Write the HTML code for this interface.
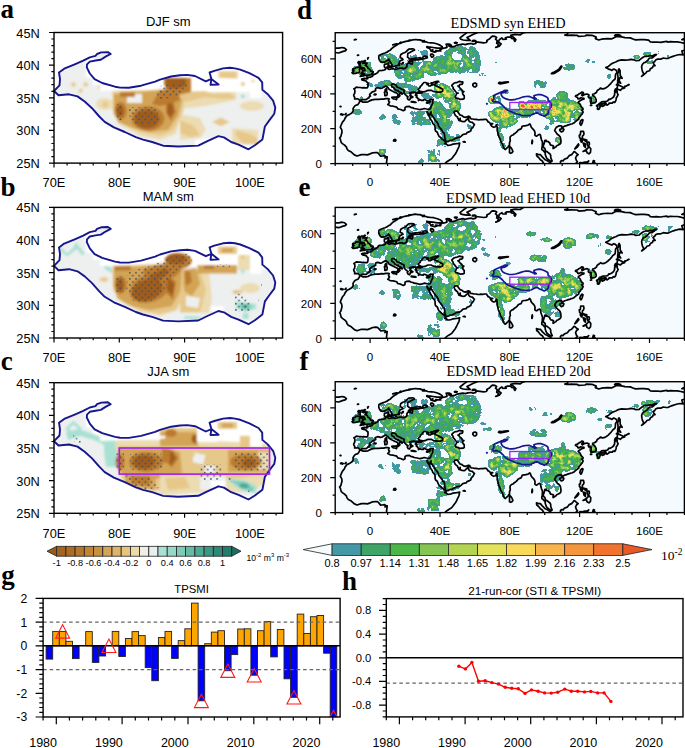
<!DOCTYPE html><html><head><meta charset="utf-8"><style>html,body{margin:0;padding:0;background:#fff}svg{display:block}</style></head><body><svg width="685" height="748" viewBox="0 0 685 748" font-family="Liberation Sans, sans-serif"><rect width="685" height="748" fill="#fff"/><defs><clipPath id="eclip"><rect x="0" y="0" width="349.2" height="130.9"/></clipPath><g id="coast" fill="none" stroke="#000" stroke-width="1.7" stroke-linejoin="round"><path d="M51.2 132.7L51.3 130.1L51.7 126.6L52 124.1L50.6 124L49.4 122.9L47.1 123.3L45.4 123.4L43.6 121.2L42.3 120L40.2 119.8L37.5 120.1L34.9 121.2L32.3 122.2L29.7 122L26.2 121.9L21.8 123.3L19.2 122.2L16.1 119.4L13.1 117.9L11.7 116.1L11.3 114.4L9.6 112.6L8.2 111.7L6.1 110L5.6 108.3L5.2 106.5L4.4 105.3L5.6 103.9L6.1 102.1L6.8 99.5L6.5 96.9L5.1 94.6L6.1 92L7.3 89.4L9.1 87.3L10 85.2L11.9 82.8L14 81.9L16.6 80.3L18 78.2L17.8 76L18.9 74.2L20.1 72.8L22.7 71.9L24.1 69.8L24.6 68.4L25.7 68.3L27.9 69.5L30.6 69.5L32.8 69.1L33.9 68.4L36.7 67.2L40.2 66.7L43.6 66.7L46.3 66.3L48.4 66.5L50.6 66L52.7 66L54.1 66.3L53.3 67.4L53.6 68.8L54.3 69.5L53.6 70.7L52.6 71.9L54.1 72.6L55 73.2L58 73.5L61.5 74.4L62.5 76.1L65.5 76.8L68.1 78L69.8 77L69.8 74.9L71.6 73.9L74.2 73.7L75.4 74.6L77.7 75.1L78.9 75.8L82.1 76.3L84.7 77L87.1 76.5L89 75.8L91.3 76.3L93.4 76.6L94.8 76.3L95.5 75.1L96 73.7L96.9 71.8L97.6 70.4L97.4 68.8L97.8 67.6L98 66.7L97.1 67L95.3 66.7L94.3 67.6L92.2 68.1L89.9 67L88.3 66.9L88 67.7L86.1 67.6L84.3 66.7L82.9 66.3L82.4 65.3L81 64.3L81.7 63.6L81.5 62.3L80.5 61.8L80.8 60.9L82.6 60.4L85.4 60.4L87.1 59.9L85.7 59L83.8 59L81.4 59.9L80.3 59.7L78.6 59.5L76.8 59.7L75.1 60.1L74.4 60.4L75.8 61.3L74.9 62.3L75.1 63.2L76.8 64.3L76.6 65.1L75.3 64.8L74.9 66.3L74.2 67.4L72.8 66.7L72.1 65.3L72.8 64.1L71.2 63L70.2 62L68.8 60.2L68.8 58.8L69 57.8L67.9 57.1L66.5 56.6L65 55.5L63.6 55L61.5 54L60.8 52.4L59.7 51.9L58.8 51.3L57.6 51.2L56.4 51.7L56.4 53.3L56.9 54L58.5 54.8L59.7 56.7L61.5 57.8L63.2 57.8L62.9 58.7L64.4 59.2L66.3 60.1L67.2 60.9L66.9 61.5L65 60.4L63.7 61.8L64.8 63L63.9 63.9L63 64.8L62.2 64.4L62.5 63.2L62.9 62L62.2 60.9L60.8 60.1L59.7 59.7L58.5 59L56.4 58.1L54.3 56.9L53.3 56L52.9 55L51.5 54L50.5 53.4L49.6 53.8L48 54.5L46.6 55.5L45.2 55.7L43.6 55.2L42.3 55L40.7 55.5L40.2 56.7L40.5 57.8L38.8 58.7L36.7 59.4L36.5 59.9L34.9 61.1L34.4 62L35.3 63.4L34 64.1L33.7 65.3L32.7 65.5L31.1 66.9L28.8 66.9L27.2 66.9L25.8 67.4L25.1 68.1L23.9 67.2L23.6 66.5L22 66L21 66.3L19.4 66.3L19.6 64.8L18.7 63.4L18.5 62.2L19.4 60.8L19.7 59.2L19.6 57.3L18.7 56L20.3 55.2L21.1 54.5L23.6 54.8L25 54.8L27.1 55.2L28.3 55L29.9 55.2L31.8 55.2L32.3 54.8L32.8 53.1L32.8 51.3L32.8 50.3L31.4 49.2L31.1 48.4L29.7 48L27.4 47.5L26.7 47L26.5 46.3L27.9 45.9L29.7 45.7L31.4 46.1L32.5 45.9L32.1 45L31.6 44.2L32.8 44.7L35.1 44.5L36.8 43.8L37.7 43L38.2 41.9L39.1 41.7L40.5 41.2L41.9 40.3L42.8 39.5L43.1 38.6L44.3 37.9L47 37.7L48.9 37.4L50.1 36.8L50.5 36.1L49.9 34.9L49.1 34L49.2 31.8L51.3 31.3L53.4 30.2L53.3 31.3L52.9 32.5L54 32.7L52.7 33.7L51.7 34.9L52.7 36L54 36.8L56 36.3L58.3 36L59.9 36.8L62 36.3L64.6 35.4L67.2 35.3L67.6 36L69.1 36L70.7 35.1L71.8 33.7L71.6 32.3L72.5 30.7L74.2 30.2L76 31.3L77 31.4L77.5 29.2L76 28.1L78 27.2L80.3 26.9L83.8 27.1L86.4 26.4L87.6 26.4L86.1 25.8L85 25L82.9 25.3L80.3 25.5L78.6 25.8L75.1 26.4L73.7 25.5L72.3 24.3L72.5 22.7L72.6 20.8L75.1 19.6L77.7 18L79.3 17.5L78.9 16.6L77.2 16.1L73.5 16.4L72.1 17.6L70.4 19.6L67.7 20.6L65.6 21.8L65.1 23.6L65 25L67.2 25.8L67.7 26.9L66.5 27.4L64.6 28.5L63.9 30.4L63.6 32L62.2 32.8L60.2 33.2L57.6 34L57.3 32.8L56.7 32.1L55.7 30.2L54.8 28.6L53.8 27.4L53.4 26.4L52.7 27.8L51.5 28.1L48.9 29.5L47.1 29.7L45.4 29.2L44.7 28.1L44 26.9L43.6 25.5L43.6 24.3L43.8 22.9L45.7 21.8L47.5 21.1L49.8 20.3L52 19.4L53.3 18.3L55 17.5L56.7 15.7L58.5 14.3L60.1 13.4L62 12.2L62.9 11.3L65.5 10.5L67.9 9.4L70.7 8.7L73.3 8.2L76.3 7.5L80 6.8L82.9 7.2L84.7 7.2L87.3 8.2L89.2 8L87.3 9.1L90.8 9.1L92.5 9.8L96 10.1L98.6 10.3L102.1 11.3L104.8 12.4L107 14L106.7 15.2L104.8 15.4L102.1 15.5L97.8 14.8L95.2 14.5L93.4 14.3L91.7 13.8L91.7 14.8L94.3 15.7L95.7 17.5L95.7 18.3L97.8 18.9L99.5 19.4L101.3 18.7L100.4 17.8L103.9 18.2L105.6 18.2L104.8 17.1L107.4 15.7L110 15.2L111.7 14.7L111.7 13.1L110.9 11.5L111.7 11.3L114.4 11.5L116.1 12.6L113.5 13.1L115.2 14.1L118.7 14L122.2 12.4L127.5 11.3L130.1 11.9L132.7 11.2L136.2 10.8L137.9 11.5L140.6 10.7L140.6 9.1L144.9 9.6L148.4 10.1L151 9.8L151.9 8.7L151.6 7.7L154.5 6.1L155.9 4.4L157.1 3.5L159.8 3.7L161.5 4.7L160.3 6.5L162 7.9L161.5 10.5L163.3 11.7L162.4 14L160.6 14.7L164.1 13.4L165.9 11.3L165 10.5L163.3 9.6L164.1 7L166.7 5.2L167.6 6.6L171.1 6.5L170.2 5.2L172 4.5L175.5 4.4L176.3 5.6L179 6.1L179 7.9L179.8 8.7L180.7 7L178.1 4.4L175.5 2.6L179.8 1.7L185.1 2.1L186.8 0.9L189.4 -0.3L195.6 -1.4L202.5 -2.1L209.5 -4.4L216.5 -4.5L220.9 -3.1L222.6 -1.7L228.7 -3L233.1 -1.4L232.2 1.7L229.6 2.3L231.3 2.8L235.7 2.4L241.8 2.6L243.6 3.7L249.7 3.3L251.4 2.4L256.7 2.6L261 4.4L260.2 5.9L263.6 7.3L266.3 6.5L268.9 6.1L272.4 5.9L276.7 6.1L279.4 4.7L281.1 3.8L286.3 4.2L289.8 4.9L295.1 5.2L297.7 6.3L300.3 7.2L305.6 7L309 7L313.4 7.5L315.2 9.3L317.8 9.4L321.3 9.3L325.6 9.6L328.2 9.1L331.7 8.7L332.6 9.4L335.2 8.9L338.7 9.1L342.2 9.1L345.7 9.8L349.2 10.7L352.7 11.5L357.9 14L357.9 22.7L349.2 17.5L346.6 18.3L347.5 21L348 22.2L344.8 21.8L342.2 22.3L339.6 23L337 23.9L335.2 24.6L332.6 25.8L330.9 25.8L328.2 25.3L325.6 26.4L323.9 26.5L322.1 26.5L320.4 27.4L319.5 28.8L317.8 30L318.6 31.4L319.9 33L317.8 33.3L317.4 34.9L315.2 36.1L314.3 38.1L311.7 38.8L310.8 40.2L308.7 41.9L308.2 40.5L307.3 38.8L306.8 36.7L306.4 34L307.1 31.8L308.7 30L310.1 29.7L312.5 27.6L314.3 25.3L316.9 25.3L319.5 23.2L321.3 21.8L319.5 22L316.9 23.4L314.8 23L313.4 23.4L310.4 23.6L308.2 24.3L304.7 26.9L304.2 27.6L300.3 27.9L298.6 27.1L295.9 26.7L293.3 27.2L289.8 27.4L286.3 27.2L283.2 27.9L280.6 29.3L278.5 30L275.9 31.4L273.2 33.7L270.6 34.9L271.9 35.6L274.1 36.7L275.5 37L276.7 37.7L278.5 36.3L280.2 37L281.6 38.4L281.8 39.8L280.4 41.6L280.2 43.1L280.1 45.4L279.7 46.6L277.6 48.2L276.6 49.6L275 51.5L272.7 53.6L271.2 54.8L268.9 56L267.1 56.2L265.4 55.3L264.2 56.4L263.1 57.1L261.9 58L261.4 59.4L260.7 60.1L259.3 61.1L257.5 61.6L257.4 62.5L258.9 63.6L259.8 64.6L260.9 66.7L261 68.6L260.2 69.7L259.1 70.2L257.5 70.5L255.8 70.9L255.4 69.8L256 68.4L255.8 67L256.1 65.6L255.3 65.1L253.9 65.1L253.2 64.4L253 63.7L253.7 62.9L253.7 62L252.6 61.6L251.9 61.3L250 61.6L248.5 62.3L247.1 63.2L246.5 62.3L247.2 61.3L248.3 60.4L247.9 59.7L246.5 59.5L245.1 60.6L243.7 61.3L242.3 62.5L240.6 62.9L240.2 63.7L241.3 64.4L242.3 64.6L242.7 66L243.7 66.2L245.7 65L247.2 65.5L248.8 65.6L248.6 66.5L246.5 67L245.7 67.6L245 68.1L243.6 68.8L243 69.8L244.1 70.7L245 71.6L245.8 73.7L246.7 74.7L247.8 75.8L247.8 76.8L246.2 77.5L247.6 78.6L247.9 79.3L247.2 80.7L246.7 81.7L245.7 82.4L245 83.8L243.7 85L243.6 86.4L242.3 87.3L241.1 88.2L239.7 89.4L238.7 90.3L237.1 91.1L235.7 91.3L234.3 92L233.1 92.2L231.3 92.9L229.6 93.4L227.9 94.3L227.3 95.5L226.5 95.2L226.5 93.4L225.4 93.2L223.5 93.2L221.2 94.6L220.5 95.7L219.8 96.9L219.5 98.1L220.5 99.2L221.4 100.6L222.8 102.1L223.8 102.8L224.9 104.2L225.4 105.6L225.6 106.9L225.8 108.6L225.6 110.2L224.9 111.2L223.1 112.3L221.9 112.8L221.2 113.5L220.7 114.2L219.1 115.2L217.9 115.9L217.9 114.4L218.4 113.5L217.4 112.8L215.6 112.4L214.8 111.4L214.6 110.3L213.4 109.3L212.7 108.8L211.1 108.8L211.1 107.6L210.4 107.6L209.5 107.9L209.3 109.6L208.6 111.7L208.1 113.1L208.3 114.9L209.5 115.6L210 116.6L210.2 118.4L211.8 118.9L213.5 120.3L214.8 121.3L215.5 122.7L215.5 124.3L215.8 125.7L216.3 126.8L217 128.3L215.6 128.7L214.4 127.8L213.4 127.1L211.8 125.9L210.9 124.3L210.6 123.4L210 121.5L210 120.1L209.7 119.6L208.8 118.9L207.8 117.5L206.6 116.8L206.6 115.2L207.1 113.5L207.1 112.1L207.3 110L206.9 108.3L206.4 107.4L205.7 105.1L205.3 102.5L204.6 101.6L203.6 102L203.1 102.1L201.5 103.4L200.1 103L199.6 102.1L199.9 100.4L199.4 98.5L198.5 97.1L197.3 96L196.4 94.8L195.9 94.3L195.6 93.1L195.2 92L194.5 91.1L192.9 92.4L191.7 92.7L190.3 93.1L188.9 93.1L187.7 93.4L186.8 93.8L186.5 95L185.8 96.2L183.9 96.9L182.8 97.6L181.8 99L180.4 100.2L178.6 101.3L178.4 102L176.9 102.5L176 103.2L175.1 103.9L174.8 105.6L175.1 108.1L174.4 109.6L174.3 111.2L174.3 113L173.4 113.1L172.7 114.7L171.5 115.4L170.2 116.8L169.4 116.3L168.5 115.2L168.1 114L167.3 111.4L166.4 110L165.5 108.4L164.8 106.2L163.8 104.1L163.1 102.1L162.6 99.7L162 97.8L162 95.5L161.9 94.1L161.5 93.1L161.7 92L161 92.2L160.8 93.4L159.6 94.3L158.5 94.6L157.1 93.8L156.3 93.1L155.4 92L156.3 91.5L157.5 91L156.3 91L155 90.8L154.7 90.3L154 89.6L152.8 89.2L152.4 88.2L151.7 87.5L151.2 86.6L149.3 86.6L147.5 87L145.8 86.8L143.7 87.1L142.5 87L140.6 86.6L138.8 86.6L137.6 86.3L135.8 86.1L135 85L134.4 83.8L133.2 83.5L132 84L130.4 84.7L128.3 84.2L126.6 82.8L124.8 82.2L123.6 80.5L122.7 79.3L122.2 78.4L121 78.4L119.6 78.7L118.7 79.6L119.4 81.2L120.1 82.6L121.3 83.6L122.4 84.5L122.6 85.6L123.3 86.4L123.6 87.6L124.1 88L124.5 87L125 85.7L125 87L125 88L126.8 88.7L128.9 88.9L129.9 88.5L130.9 87.5L131.8 86.6L132.7 85.6L133.2 85L133.4 86.1L133.4 87.5L134.4 89L135.8 89.4L137.2 89.7L138.3 91L139.3 91.7L138.5 93.2L137.6 94.8L136.9 95.3L135.8 96.9L135.7 98L133.7 99.2L131.8 99.9L130.9 101.3L129.2 101.4L127.5 102L126.1 103.4L124.8 104.4L122.2 104.9L120.5 105.6L118.7 106.5L117 107.4L115.2 107.6L113.5 108.6L111.7 109L110.7 108.8L110.3 107.7L109.6 105.1L109.5 103.5L109.3 102.1L109.1 100.6L107.7 99.7L106.9 97.8L105.8 96.4L104.2 94.6L103.4 93.4L103 91.7L102.1 89.9L101.3 88.9L100.2 87.8L99.3 86.3L98.6 85.2L97.3 83.3L96.2 81.9L95.5 80.3L96 79.4L95.3 79.8L94.8 81.7L94.6 82.4L93.6 81.5L92.5 80L91.8 78.7L91.8 79.4L92.4 81L93.4 82.2L94.1 83.8L94.8 85.4L95.9 87.3L97.1 89L97.6 90.8L99.3 92.5L99.9 94.3L99.9 96.7L100.4 98.3L102.1 99.5L103 102L103.9 103.7L104.8 104.2L106.5 106L107.7 106.9L109.5 108.3L110.5 109.5L110.5 110.3L109.5 110.9L110.9 111.2L112.6 112.6L114.4 112.4L116.1 112.1L117.9 111.4L119.6 111.2L121.3 111L123.1 110.7L124.5 110.3L124.1 111.7L124.1 112.8L123.6 114.4L122.7 116.1L121.3 119.1L120.1 121.3L118.7 123.1L117 125.4L115.2 126.9L114 127.5L111.7 129L110 130.6L108.3 132.7L106.5 134.4L104.8 137.9L69.8 144.9L50.6 136.2Z"/><path d="M25 43.6L27.1 43.1L28.8 43.1L30.6 42.6L33.2 42.4L35.8 42.3L37.4 41.6L36.5 41L37.9 40.2L37.9 38.9L35.4 38.4L35.1 37.4L34.2 36.3L32.8 35.6L32.1 33.9L31.3 33.3L30 33L30.4 32.3L31.4 31.4L31.8 30.4L30 30.2L28.3 30.4L27.6 30.6L28.6 29.5L29.5 28.6L27.9 28.6L26.2 28.6L25.7 29.3L25.1 30.6L24.8 31.6L25.1 32.7L25.1 34.2L26.5 34.9L26.4 35.4L28.8 35.1L29.3 36.3L29.9 37.4L29.5 37.9L27.6 37.9L27.1 38.6L27.8 39.5L26.7 40L25.8 40.5L27.4 40.9L29.3 41.2L27.6 41.6L26.2 42.3L25 43.6ZM24.1 36.8L25.1 36.1L24.8 35.1L23.9 34.6L22.2 34.4L20.4 34.7L19.9 35.8L17.5 36.3L18.2 37L17.3 37.7L18.7 38.2L18.2 39.1L16.8 40L17.8 40.9L20.3 40.7L22.7 40L23.9 39.8L24.4 38.4L24.1 36.8ZM-7 16.6L-3.8 15L0 15.5L3.5 15.4L7 14.8L9.4 15.4L11.2 16.9L10 18.2L7.9 18.7L3.5 20.3L-0.9 19.7L-4.7 19.4L-3.5 18.5L-6.1 17.6L-4.4 17.1L-7 16.6ZM125.7 6.5L128 7.3L131.8 7.7L135 7.7L133.6 6.5L131.8 4.9L134.4 3.5L136.2 2.6L139.7 0.9L144 -0.9L150.2 -2.3L155.4 -3.5L151.9 -3.8L143.2 -3L136.2 -1.4L131.8 -0.3L130.1 1.2L128.3 2.4L126.6 3.8L124.8 5.2L125.7 6.5ZM137.1 8.6L138.8 8.4L140.6 8.2L139.3 7.7L137.2 7.9L137.1 8.6ZM119.6 10.5L121.3 10.7L122 10L120.5 9.6L119.3 10L119.6 10.5ZM49.9 58.7L51.2 58.7L51.5 57.4L51.3 55.9L50.6 56.4L49.9 57.1L49.9 58.7ZM49.6 62.9L50.6 62.9L51.7 62.5L52 60.9L51.9 59.5L51 59L49.2 59.5L49.6 61.1L49.6 62.9ZM56.6 65L58.1 66.2L59.9 66.3L61.3 66.9L61.6 65.8L62.2 64.1L60.2 64.4L58.1 64.3L56.6 64.6L56.6 65ZM76 69.3L77.3 69.5L79.4 69.8L80.8 69.7L80 69.3L77.7 69L76.1 68.8L76 69.3ZM91.3 70.2L92.5 70.5L94.3 69.8L95.3 68.6L93.4 69.3L91.7 69.5L91.3 70.2ZM54.3 34.6L56 34.9L56.9 33.9L56.4 33L54.6 33.5L54.3 34.6ZM52 34.7L53.6 34.7L53.4 33.9L52.2 34L52 34.7ZM66.5 31.4L67.7 31.1L68.1 29.9L67.4 30L66.5 31.4ZM73.2 29.2L74.9 29.5L75.6 28.8L74.2 28.6L73.2 29.2ZM38.9 62L40.2 62.3L40.9 61.6L39.8 61.3L38.9 62ZM261.4 73L262.4 74.4L262.2 76.3L263.1 76.8L264.2 76.1L264.7 74.4L265.2 73.3L264.5 72.3L263.5 71.8L262.4 72.3L261.4 73ZM266.3 73L267.1 73.7L269.2 72.8L270.1 71.8L269.2 71.1L267.5 71.2L266.4 71.9L266.3 73ZM263.5 71.6L265.2 70.4L266.4 69.1L268 68.8L270.6 68.6L272.4 68.3L273.6 66.5L274.6 66.7L276.7 65.6L278.3 64.3L279.4 62.3L279.4 60.4L280.2 59.4L280.8 58.8L282 58.7L282 60.4L282.9 62L282 63.9L281.1 65L280.9 66.7L280.4 68.4L279.5 69.7L278.8 69.3L277.8 69.5L277.3 70.4L275.2 70.5L273.9 70.4L273.8 71.1L272 72.5L271 71.9L270.8 70.5L269.2 70.4L267.3 70.9L265.9 71.1L264.5 71.6L263.5 71.6ZM279.4 58.5L280.1 56.6L281.8 55.5L282.3 53.6L282.7 51.7L284.4 52.9L286.9 54.1L288.6 55L289.5 55.2L286.9 56L285.1 57.6L282.7 56.6L281.1 58L279.4 58.5ZM282.5 50.5L283.2 49.6L285.5 50.5L283.9 48L284.6 45L287 45.6L285.1 42.8L284.9 40.2L284.9 37.9L283.9 36.1L283.2 37L283.4 39.1L282.3 41L282.7 43.3L282.9 45.7L282.5 47.8L282.5 50.5ZM244.6 90.8L245.7 92.5L246.2 92L247.1 89.9L247.8 87.3L246.9 86.8L245.3 88.5L244.6 90.8ZM224.5 97.6L226.1 99.2L227.9 98.5L228.7 96.6L227.9 95.9L226.6 96L224.7 96.7L224.5 97.6ZM174.3 120.1L174.3 116.6L174.6 113.8L176 115.2L177 117L177.7 118.7L176.7 120.1L175.5 120.6L174.3 120.1ZM245.5 98.6L248.3 98.6L248.8 101.1L248.1 102.7L247.2 103.4L247.2 106.2L251.6 107.4L251.4 109L250.2 108.3L247.9 106.9L246.2 107L245.5 105.8L244.4 105.1L244.1 102.5L245.1 102.1L245.5 98.6ZM247.9 118.7L249.3 117.9L250.7 117L251.9 116.1L253.9 114L255.6 116.1L255.3 119.6L253.7 121.2L251.8 120L251.1 117.7L247.9 118.7ZM251.9 109.1L254 109.6L254.2 111.7L252.8 113.5L251.9 111.7L251.9 109.1ZM247.9 110.3L249.9 110.9L249.7 112.6L248.8 112.4L247.9 110.3ZM248.6 112.4L250 111.9L250.2 114.7L249 113.7L248.6 112.4ZM239.6 116.3L241.8 114.7L243.6 112.4L243.2 111.2L240.9 114.2L239.6 116.3ZM245.1 107.4L246.5 107.2L247.1 108.6L246.2 109.5L245.1 107.4ZM226.3 127.8L227.9 128.2L229.1 126.6L231.3 125.7L232.2 125.4L234.1 122.9L236.4 121.9L237.6 120.5L238.9 118.9L240.2 119.6L241.3 120.8L243 121.9L241.3 123.3L240.4 125.2L241.1 127.5L242.3 129.2L240.6 130.6L239.7 132.7L237.5 137.1L227.9 135.3L225.6 131.8L225.2 129.2L226.3 127.8ZM201.3 121.2L203.4 121.9L205.2 121.9L207.3 124.5L210 127.1L211.8 127.8L213.9 129.2L215.5 130.1L217.2 133L217.4 136.2L211.3 135.3L208.6 130.9L207.1 128.3L205.2 127.1L203.4 124.8L201.5 123.1L201.3 121.2ZM244.1 130.9L244.8 129.9L247.1 130.1L249.7 129.4L252.3 129.2L253.5 128.2L251.9 130.3L249.7 130.4L247.1 130.8L245.5 132.7L246.2 136.2L242.7 136.2L243.6 132.7L244.1 130.9ZM257.5 130.1L258.2 127.8L259.3 128.3L258.4 129.6L259.8 130.4L258.8 131.8L257.7 131.5L257.5 130.1ZM346.6 7L350.1 7L350.9 5.9L348.3 6.1L346.6 7ZM279.4 3L282.9 3.1L285.5 2.8L282.9 1.9L280.2 2.1L279.4 3ZM209.5 -1.7L218.2 -1.7L218.2 -8.7L209.5 -8.7ZM5.8 82.1L6.8 81.4L5.9 81.2L5.4 81.5L5.8 82.1ZM7.3 82.4L8 81.9L7.5 81.7L7.3 82.4ZM9.8 81.9L10.8 80.8L10.7 81.7L9.8 81.9ZM4.9 73.9L5.8 73.9L5.4 73.6L4.9 73.9ZM196.6 110.9L196.9 110.9L197.3 109.1L197.1 107.4L196.8 108.3L196.6 110.9ZM289 54.6L290.2 53.8L289.8 53.4L289 54.6ZM291.2 53.3L293.2 52L293.9 51.9L292.1 52.7L291.2 53.3ZM306.4 43.6L308 42.6L307.6 42.3L306.4 43.6ZM255.3 72.8L256.5 72.6L255.8 72.4L255.3 72.8ZM281.3 52.2L281.6 51.9L281.3 51.7ZM19.2 7.2L21.1 6.8L20.4 6.7L19.2 7.2ZM128 109.1L130.1 109.5L129.2 108.8L128 109.1ZM49.8 125.2L50.5 124.8L50.1 124.3L49.8 125.2ZM80.1 62.5L81.4 62.9L81 62.2L80.1 62.5ZM83.3 67.9L84.2 67.4L83.8 67.2L83.3 67.9ZM74.9 63L76.8 64.3L77.7 64.4L76 63.4L74.9 63ZM60.6 34.9L61.5 34.7L60.9 34.4L60.6 34.9ZM63.6 32.8L64.4 32.1L64.8 30.9L63.6 32.8ZM74 28.3L75.1 28.3L74.4 27.8L74 28.3ZM22.7 30L24.1 28.8L23.2 29.2L22.7 30ZM23.4 31.1L24.6 30.9L24.1 30.2L23.4 31.1ZM23.9 32.7L25 32.5L24.3 32.1L23.9 32.7ZM26.5 36.5L27.4 36.1L27.1 36L26.5 36.5ZM32.5 26.4L32.8 25.5L33.2 25L32.5 25.3L32.5 26.4ZM29 28.3L30.2 28.1L29.7 27.8L29 28.3ZM22.3 22.7L23.4 22.5L22.9 22.2L22.3 22.7ZM57.6 12.2L60.2 11.9L62.5 11.3L61.1 11.2L57.6 12.2ZM64.6 10.1L66 9.8L65.5 9.4L64.6 10.1ZM73.3 7.9L74.7 7.7L74.2 7.5L73.3 7.9ZM96.9 17.5L97.8 17.3L97.3 17.1L96.9 17.5Z"/><path d="M58.3 108.3L60.1 108.4L60.8 107.6L59.9 106.7L58.7 107L58.3 108.3ZM117.9 51.3L118.7 50.6L120 50.1L120.8 49.9L122.2 49.6L124.3 48.7L126.1 49.2L127.5 49.1L127.6 50.3L126.9 51.5L124.5 52L124 53.1L122.7 53.4L123.8 54L124.5 55.2L125.7 56.2L126.8 57.3L127.1 58.3L128.7 58.8L127.3 59.9L127.5 61.1L128.2 62.3L129 63L129 64.6L129 65.8L127.8 66.5L124.8 66.7L122.6 65.6L120.6 65.3L120.1 63.9L120.5 63L121 61.8L121.3 60.8L122.9 60.4L121.5 60.1L120.5 59L119.8 58L118.7 56.7L117.9 55.9L117.9 54.6L117 53.6L116.6 52.7L117.9 51.3ZM137.6 52.7L138.8 54.1L140.2 54.3L141.4 53.1L141.4 51.3L140 50.3L138.5 50.6L137.6 51.7L137.6 52.7ZM163.3 50.6L165 51.2L167.6 50.6L170.2 50.1L173.2 49.4L172.9 49.1L169.4 49.4L166.7 49.8L164.1 49.6L163.3 50.6ZM216.2 40.9L217.9 41L220 40.2L222.6 38.6L224.4 37.4L226.3 34.6L226.6 33.5L225.8 33.5L224 36.1L221.7 37.9L219.1 39.3L217 40.2L216.2 40.9ZM88.2 26.2L89.9 25.8L92.2 25.1L91.8 23.9L89.9 23.4L88.2 23.9L87.3 25.1L88.2 26.2ZM96.4 24.4L97.8 24.1L98.5 22.7L97.4 21.5L95.7 21.3L95.3 22.7L96.4 24.4ZM85.7 59L88.2 59.2L89.9 59L91.7 58L93.4 57.6L96 57.6L96.9 58.1L98.3 58.8L100.4 59.2L102.1 59.5L104.2 59.4L105.6 59.4L107.4 58.5L107.6 56.6L106.5 55.9L104.8 55.2L103 54L101.3 53.3L100 52.6L99 52L100.4 50.8L101.8 50.1L103.4 48.7L101.8 48.7L100 49.1L97.8 49.8L96.4 50.1L95.7 50.6L96.6 51.7L98.6 51.7L96.7 52.4L95 53.3L93.6 53.3L93.2 52.4L91.8 51.7L93.6 50.8L91.7 50.5L90.3 49.8L88.7 49.8L87.6 51L86.8 51.9L86.6 52.7L85 53.8L84.9 55L83.8 55.5L83.5 56.4L82.9 56.9L83.8 57.8L84.5 58.5L85.7 59Z"/></g></defs><text x="0.5" y="18.3" font-size="27" font-family="Liberation Serif, serif" font-weight="bold">a</text><text x="0.5" y="195.8" font-size="27" font-family="Liberation Serif, serif" font-weight="bold">b</text><text x="0.8" y="369.5" font-size="27" font-family="Liberation Serif, serif" font-weight="bold">c</text><text x="297" y="18.5" font-size="27" font-family="Liberation Serif, serif" font-weight="bold">d</text><text x="298.5" y="195.6" font-size="27" font-family="Liberation Serif, serif" font-weight="bold">e</text><text x="299.5" y="369.6" font-size="27" font-family="Liberation Serif, serif" font-weight="bold">f</text><text x="1.2" y="583.5" font-size="27" font-family="Liberation Serif, serif" font-weight="bold">g</text><text x="342" y="589.7" font-size="27" font-family="Liberation Serif, serif" font-weight="bold">h</text><text x="168.3" y="25.9" font-size="13" text-anchor="middle">DJF sm</text><path d="M54 163.1H49M54 156.6H51.4M54 150H51.4M54 143.5H51.4M54 137H51.4M54 130.4H49M54 123.9H51.4M54 117.4H51.4M54 110.9H51.4M54 104.3H51.4M54 97.8H49M54 91.3H51.4M54 84.7H51.4M54 78.2H51.4M54 71.7H51.4M54 65.2H49M54 58.6H51.4M54 52.1H51.4M54 45.6H51.4M54 39H51.4M54 32.5H49M54 163.1V167.6M67.1 163.1V165.4M80.1 163.1V165.4M93.2 163.1V165.4M106.3 163.1V165.4M119.3 163.1V167.6M132.4 163.1V165.4M145.4 163.1V165.4M158.5 163.1V165.4M171.6 163.1V165.4M184.6 163.1V167.6M197.7 163.1V165.4M210.8 163.1V165.4M223.8 163.1V165.4M236.9 163.1V165.4M249.9 163.1V167.6M263 163.1V165.4M276.1 163.1V165.4" stroke="#000" stroke-width="1.2" fill="none"/><text x="39.8" y="37.5" font-size="12.8" text-anchor="end">45N</text><text x="39.8" y="70.2" font-size="12.8" text-anchor="end">40N</text><text x="39.8" y="102.8" font-size="12.8" text-anchor="end">35N</text><text x="39.8" y="135.4" font-size="12.8" text-anchor="end">30N</text><text x="39.8" y="168.1" font-size="12.8" text-anchor="end">25N</text><text x="54" y="187.4" font-size="12.8" text-anchor="middle">70E</text><text x="119.3" y="187.4" font-size="12.8" text-anchor="middle">80E</text><text x="184.6" y="187.4" font-size="12.8" text-anchor="middle">90E</text><text x="249.9" y="187.4" font-size="12.8" text-anchor="middle">100E</text><text x="168.3" y="200.8" font-size="13" text-anchor="middle">MAM sm</text><path d="M54 338H49M54 331.5H51.4M54 324.9H51.4M54 318.4H51.4M54 311.9H51.4M54 305.4H49M54 298.8H51.4M54 292.3H51.4M54 285.8H51.4M54 279.2H51.4M54 272.7H49M54 266.2H51.4M54 259.6H51.4M54 253.1H51.4M54 246.6H51.4M54 240.1H49M54 233.5H51.4M54 227H51.4M54 220.5H51.4M54 213.9H51.4M54 207.4H49M54 338V342.5M67.1 338V340.3M80.1 338V340.3M93.2 338V340.3M106.3 338V340.3M119.3 338V342.5M132.4 338V340.3M145.4 338V340.3M158.5 338V340.3M171.6 338V340.3M184.6 338V342.5M197.7 338V340.3M210.8 338V340.3M223.8 338V340.3M236.9 338V340.3M249.9 338V342.5M263 338V340.3M276.1 338V340.3" stroke="#000" stroke-width="1.2" fill="none"/><text x="39.8" y="212.4" font-size="12.8" text-anchor="end">45N</text><text x="39.8" y="245.1" font-size="12.8" text-anchor="end">40N</text><text x="39.8" y="277.7" font-size="12.8" text-anchor="end">35N</text><text x="39.8" y="310.4" font-size="12.8" text-anchor="end">30N</text><text x="39.8" y="343" font-size="12.8" text-anchor="end">25N</text><text x="54" y="362.3" font-size="12.8" text-anchor="middle">70E</text><text x="119.3" y="362.3" font-size="12.8" text-anchor="middle">80E</text><text x="184.6" y="362.3" font-size="12.8" text-anchor="middle">90E</text><text x="249.9" y="362.3" font-size="12.8" text-anchor="middle">100E</text><text x="168.3" y="376.1" font-size="13" text-anchor="middle">JJA sm</text><path d="M54 513.3H49M54 506.8H51.4M54 500.2H51.4M54 493.7H51.4M54 487.2H51.4M54 480.6H49M54 474.1H51.4M54 467.6H51.4M54 461.1H51.4M54 454.5H51.4M54 448H49M54 441.5H51.4M54 434.9H51.4M54 428.4H51.4M54 421.9H51.4M54 415.3H49M54 408.8H51.4M54 402.3H51.4M54 395.8H51.4M54 389.2H51.4M54 382.7H49M54 513.3V517.8M67.1 513.3V515.6M80.1 513.3V515.6M93.2 513.3V515.6M106.3 513.3V515.6M119.3 513.3V517.8M132.4 513.3V515.6M145.4 513.3V515.6M158.5 513.3V515.6M171.6 513.3V515.6M184.6 513.3V517.8M197.7 513.3V515.6M210.8 513.3V515.6M223.8 513.3V515.6M236.9 513.3V515.6M249.9 513.3V517.8M263 513.3V515.6M276.1 513.3V515.6" stroke="#000" stroke-width="1.2" fill="none"/><text x="39.8" y="387.7" font-size="12.8" text-anchor="end">45N</text><text x="39.8" y="420.3" font-size="12.8" text-anchor="end">40N</text><text x="39.8" y="453" font-size="12.8" text-anchor="end">35N</text><text x="39.8" y="485.6" font-size="12.8" text-anchor="end">30N</text><text x="39.8" y="518.3" font-size="12.8" text-anchor="end">25N</text><text x="54" y="537.6" font-size="12.8" text-anchor="middle">70E</text><text x="119.3" y="537.6" font-size="12.8" text-anchor="middle">80E</text><text x="184.6" y="537.6" font-size="12.8" text-anchor="middle">90E</text><text x="249.9" y="537.6" font-size="12.8" text-anchor="middle">100E</text><text x="508" y="28.4" font-size="14.3" font-family="Liberation Serif, serif" text-anchor="middle">EDSMD syn EHED</text><path d="M335.2 163.6H330.2M335.2 146.2H332.6M335.2 128.7H330.2M335.2 111.3H332.6M335.2 93.8H330.2M335.2 76.3H332.6M335.2 58.9H330.2M335.2 41.4H332.6M335.2 163.6V165.9M352.7 163.6V165.9M370.1 163.6V168.1M387.6 163.6V165.9M405 163.6V165.9M422.5 163.6V165.9M440 163.6V168.1M457.4 163.6V165.9M474.9 163.6V165.9M492.3 163.6V165.9M509.8 163.6V168.1M527.3 163.6V165.9M544.7 163.6V165.9M562.2 163.6V165.9M579.6 163.6V168.1M597.1 163.6V165.9M614.6 163.6V165.9M632 163.6V165.9M649.5 163.6V168.1M666.9 163.6V165.9M684.4 163.6V165.9" stroke="#000" stroke-width="1.2" fill="none"/><text x="322" y="167.8" font-size="11.6" text-anchor="end">0</text><text x="322" y="132.9" font-size="11.6" text-anchor="end">20N</text><text x="322" y="98" font-size="11.6" text-anchor="end">40N</text><text x="322" y="63.1" font-size="11.6" text-anchor="end">60N</text><text x="370.1" y="185.7" font-size="11.6" text-anchor="middle">0</text><text x="440" y="185.7" font-size="11.6" text-anchor="middle">40E</text><text x="509.8" y="185.7" font-size="11.6" text-anchor="middle">80E</text><text x="579.6" y="185.7" font-size="11.6" text-anchor="middle">120E</text><text x="649.5" y="185.7" font-size="11.6" text-anchor="middle">160E</text><text x="518" y="202.5" font-size="14.3" font-family="Liberation Serif, serif" text-anchor="middle">EDSMD lead EHED 10d</text><path d="M335.2 338.4H330.2M335.2 320.9H332.6M335.2 303.4H330.2M335.2 286H332.6M335.2 268.5H330.2M335.2 251.1H332.6M335.2 233.6H330.2M335.2 216.1H332.6M335.2 338.4V340.7M352.7 338.4V340.7M370.1 338.4V342.9M387.6 338.4V340.7M405 338.4V340.7M422.5 338.4V340.7M440 338.4V342.9M457.4 338.4V340.7M474.9 338.4V340.7M492.3 338.4V340.7M509.8 338.4V342.9M527.3 338.4V340.7M544.7 338.4V340.7M562.2 338.4V340.7M579.6 338.4V342.9M597.1 338.4V340.7M614.6 338.4V340.7M632 338.4V340.7M649.5 338.4V342.9M666.9 338.4V340.7M684.4 338.4V340.7" stroke="#000" stroke-width="1.2" fill="none"/><text x="322" y="342.6" font-size="11.6" text-anchor="end">0</text><text x="322" y="307.6" font-size="11.6" text-anchor="end">20N</text><text x="322" y="272.7" font-size="11.6" text-anchor="end">40N</text><text x="322" y="237.8" font-size="11.6" text-anchor="end">60N</text><text x="370.1" y="360.5" font-size="11.6" text-anchor="middle">0</text><text x="440" y="360.5" font-size="11.6" text-anchor="middle">40E</text><text x="509.8" y="360.5" font-size="11.6" text-anchor="middle">80E</text><text x="579.6" y="360.5" font-size="11.6" text-anchor="middle">120E</text><text x="649.5" y="360.5" font-size="11.6" text-anchor="middle">160E</text><text x="518.7" y="376.1" font-size="14.3" font-family="Liberation Serif, serif" text-anchor="middle">EDSMD lead EHED 20d</text><path d="M335.2 512.6H330.2M335.2 495.2H332.6M335.2 477.7H330.2M335.2 460.3H332.6M335.2 442.8H330.2M335.2 425.3H332.6M335.2 407.9H330.2M335.2 390.4H332.6M335.2 512.6V514.9M352.7 512.6V514.9M370.1 512.6V517.1M387.6 512.6V514.9M405 512.6V514.9M422.5 512.6V514.9M440 512.6V517.1M457.4 512.6V514.9M474.9 512.6V514.9M492.3 512.6V514.9M509.8 512.6V517.1M527.3 512.6V514.9M544.7 512.6V514.9M562.2 512.6V514.9M579.6 512.6V517.1M597.1 512.6V514.9M614.6 512.6V514.9M632 512.6V514.9M649.5 512.6V517.1M666.9 512.6V514.9M684.4 512.6V514.9" stroke="#000" stroke-width="1.2" fill="none"/><text x="322" y="516.9" font-size="11.6" text-anchor="end">0</text><text x="322" y="481.9" font-size="11.6" text-anchor="end">20N</text><text x="322" y="447" font-size="11.6" text-anchor="end">40N</text><text x="322" y="412.1" font-size="11.6" text-anchor="end">60N</text><text x="370.1" y="534.8" font-size="11.6" text-anchor="middle">0</text><text x="440" y="534.8" font-size="11.6" text-anchor="middle">40E</text><text x="509.8" y="534.8" font-size="11.6" text-anchor="middle">80E</text><text x="579.6" y="534.8" font-size="11.6" text-anchor="middle">120E</text><text x="649.5" y="534.8" font-size="11.6" text-anchor="middle">160E</text><defs><clipPath id="tpclip"><path d="M54 91L59.5 85.3L60 79.2L59 72.5L64.2 68.7L74.7 64.4L83.2 60.7L89.8 57.3L95.5 55.9L97 54L101.2 52.4L107.9 52.1L110.7 54L106 56.4L100.8 59.7L95.5 60.5L89.8 61.6L87 64.4L86.8 67.3L89.8 73.5L94.6 79.2L102.2 83L115 86.7L120 87.6L128.8 87.7L141.1 85.7L155.1 81.7L160 79.6L171 76.5L180 75.3L187.4 74.9L195 76L205.8 81.3L211.4 78.9L210.5 84.8L218.6 84.5L211.4 78.9L209.6 72.5L214.3 70.8L223 68.4L230 67.8L235 68.4L240.3 69.6L249.4 73.2L258.5 77.8L262.2 82.4L262.4 89.7L267.7 94.2L273.1 100.6L275.3 107.6L274.3 113.7L269.5 120.1L264.9 126.5L262.4 139.5L254.9 145.3L248.5 149.3L238.5 144.7L231.2 142L223.9 137.4L218.4 136.1L207.4 141.1L198.3 145.6L178.2 146.5L163.1 145.7L152.2 142L143 139.6L135.8 137.1L124.8 132L113.9 127.4L104.7 121.9L99.3 116.5L92 108.2L84.7 101.5L77.5 96.4L69 94.3L58.5 95.3L54 91Z"/></clipPath><filter id="sblur" x="-5%" y="-5%" width="110%" height="110%"><feGaussianBlur stdDeviation="0.9"/></filter><pattern id="dots" x="0.6" y="0.4" width="6.24" height="6.2" patternUnits="userSpaceOnUse"><rect x="0.5" y="0.5" width="1.5" height="1.5" fill="#3f4f62"/><rect x="3.62" y="3.6" width="1.5" height="1.5" fill="#3f4f62"/></pattern></defs><g transform="translate(0,0)"><g clip-path="url(#tpclip)"><g filter="url(#sblur)"><path d="M55 95L55 68L73 64L73 62L85 58L86 77L93 78L93 85L105 85L105 90L160 90L200 92L262 92L276 100L276 146L56 146Z" fill="#edf0ef"/><path d="M95 52L112 52L112 58L95 60Z" fill="#edf0ef"/><path d="M114 104L113.3 106.3L111.4 108.2L108.4 109.5L105 110L101.6 109.5L98.6 108.2L96.7 106.3L96 104L96.7 101.7L98.6 99.8L101.6 98.5L105 98L108.4 98.5L111.4 99.8L113.3 101.7Z" fill="#ecdcb2"/><path d="M105.1 101L108.6 104.5L105.1 108L101.6 104.5Z" fill="#e6c88a"/><path d="M73.4 81L76.9 84.5L73.4 88L69.9 84.5Z" fill="#ecdcb2"/><path d="M85.7 81L89.2 84.5L85.7 88L82.2 84.5Z" fill="#ecdcb2"/><path d="M80.6 87.7L83.6 90.7L80.6 93.7L77.6 90.7Z" fill="#ecdcb2"/><path d="M99 84.6L101.5 87.1L99 89.6L96.5 87.1Z" fill="#ecdcb2"/><path d="M73.4 82.3L75.6 84.5L73.4 86.7L71.2 84.5Z" fill="#e6c88a"/><path d="M85.7 82.3L87.9 84.5L85.7 86.7L83.5 84.5Z" fill="#e6c88a"/><path d="M80.6 88.7L82.6 90.7L80.6 92.7L78.6 90.7Z" fill="#e6c88a"/><path d="M180 92L236 92L236 100L206 106L180 109Z" fill="#ecdcb2"/><path d="M180 92L205 91L212 94L230 93L236 98L222 99L205 97L190 101L180 102Z" fill="#e6c88a"/><path d="M180 114L200 118L206 130L200 138L180 140Z" fill="#ecdcb2"/><path d="M180 120L194 126L200 135L190 137L180 133Z" fill="#e6c88a"/><path d="M212 122L221 117.5L229.6 122L221 126.3Z" fill="#e6c88a"/><path d="M232 128L258 130L258 144L232 144Z" fill="#ecdcb2"/><path d="M236 130L250 134L257 138L257 144L244 144L236 136Z" fill="#e6c88a"/><path d="M218 70.8L238 70.8L238 79L218 79Z" fill="#ecdcb2"/><path d="M220 72L236 72L236 78L220 78Z" fill="#e6c88a"/><path d="M242.8 81.5L245.3 84L242.8 86.5L240.3 84Z" fill="#e6c88a"/><path d="M253 79.2L254.8 81L253 82.8L251.2 81Z" fill="#e6c88a"/><path d="M242.8 94.2L245 96.4L242.8 98.6L240.6 96.4Z" fill="#8fd8c8"/><path d="M264 106L263.1 107.9L260.5 109.5L256.6 110.6L252 111L247.4 110.6L243.5 109.5L240.9 107.9L240 106L240.9 104.1L243.5 102.5L247.4 101.4L252 101L256.6 101.4L260.5 102.5L263.1 104.1Z" fill="#ecdcb2"/><path d="M112 90L180 90L182 112L176 134L160 140L140 136L118 124L112 110Z" fill="#ecdcb2"/><path d="M113 92L150 90L175 88L185 95L183 112L174 130L160 136L140 132L122 124L113 114Z" fill="#e6c88a"/><path d="M114 94L140 92L160 90L175 89L182 100L178 116L168 130L150 132L133 128L118 122L114 108Z" fill="#d3a457"/><path d="M127 94L142 94L142 103L127 103Z" fill="#edf0ef"/><path d="M160 90L178 88L180 100L170 104L160 106L152 104Z" fill="#bb7a2e"/><path d="M164.5 118.5L163.2 123.3L159.7 127.3L154.3 130L148 131L141.7 130L136.3 127.3L132.8 123.3L131.5 118.5L132.8 113.7L136.3 109.7L141.7 107L148 106L154.3 107L159.7 109.7L163.2 113.7Z" fill="#bb7a2e"/><path d="M126.5 111L126 114.4L124.7 117.4L122.8 119.3L120.5 120L118.2 119.3L116.3 117.4L115 114.4L114.5 111L115 107.6L116.3 104.6L118.2 102.7L120.5 102L122.8 102.7L124.7 104.6L126 107.6Z" fill="#bb7a2e"/><path d="M166 99L173 100L176 112L171 121L166 113Z" fill="#bb7a2e"/><path d="M168 103L172 104L174 112L170 117L167 112Z" fill="#9f5c1a"/><path d="M164 78L191 78L191 92L178 95L164 92Z" fill="#bb7a2e"/><path d="M159.5 119L158.5 122.6L155.8 125.7L151.8 127.8L147 128.5L142.2 127.8L138.2 125.7L135.5 122.6L134.5 119L135.5 115.4L138.2 112.3L142.2 110.2L147 109.5L151.8 110.2L155.8 112.3L158.5 115.4Z" fill="#9f5c1a"/><path d="M123.5 111L123.2 113.3L122.5 115.2L121.3 116.5L120 117L118.7 116.5L117.5 115.2L116.8 113.3L116.5 111L116.8 108.7L117.5 106.8L118.7 105.5L120 105L121.3 105.5L122.5 106.8L123.2 108.7Z" fill="#9f5c1a"/><path d="M166 78L186 78L186 86L176 89L166 87Z" fill="#9f5c1a"/><path d="M120 92L135 92L135 97L120 97Z" fill="#bb7a2e"/><path d="M100 86L165 86L165 89L100 91Z" fill="#ffffff"/><path d="M196 77L240 79L238 91L196 90Z" fill="#ffffff"/><path d="M250 84L262 84L262 98L250 98Z" fill="#ffffff"/><path d="M195 140L220 138L220 148L195 148Z" fill="#ffffff"/></g><path d="M128 107L156 107L161 122L148 124L135 124L128 114Z" fill="url(#dots)"/><path d="M160 86L185 82L188 88L176 96L162 100L156 96Z" fill="url(#dots)"/><path d="M117 104L122 104L122 120L117 120Z" fill="url(#dots)"/></g><path d="M54 91L59.5 85.3L60 79.2L59 72.5L64.2 68.7L74.7 64.4L83.2 60.7L89.8 57.3L95.5 55.9L97 54L101.2 52.4L107.9 52.1L110.7 54L106 56.4L100.8 59.7L95.5 60.5L89.8 61.6L87 64.4L86.8 67.3L89.8 73.5L94.6 79.2L102.2 83L115 86.7L120 87.6L128.8 87.7L141.1 85.7L155.1 81.7L160 79.6L171 76.5L180 75.3L187.4 74.9L195 76L205.8 81.3L211.4 78.9L210.5 84.8L218.6 84.5L211.4 78.9L209.6 72.5L214.3 70.8L223 68.4L230 67.8L235 68.4L240.3 69.6L249.4 73.2L258.5 77.8L262.2 82.4L262.4 89.7L267.7 94.2L273.1 100.6L275.3 107.6L274.3 113.7L269.5 120.1L264.9 126.5L262.4 139.5L254.9 145.3L248.5 149.3L238.5 144.7L231.2 142L223.9 137.4L218.4 136.1L207.4 141.1L198.3 145.6L178.2 146.5L163.1 145.7L152.2 142L143 139.6L135.8 137.1L124.8 132L113.9 127.4L104.7 121.9L99.3 116.5L92 108.2L84.7 101.5L77.5 96.4L69 94.3L58.5 95.3L54 91Z" fill="none" stroke="#16168e" stroke-width="1.9" stroke-linejoin="round"/></g><g transform="translate(0,174.9)"><g clip-path="url(#tpclip)"><g filter="url(#sblur)"><path d="M55 95L55 68L73 64L73 62L85 58L86 77L93 78L93 85L105 85L105 90L160 90L200 92L262 92L276 100L276 146L56 146Z" fill="#edf0ef"/><path d="M95 52L112 52L112 58L95 60Z" fill="#edf0ef"/><path d="M61 72.1L67 78.6L73 73.1L76 67.1L78 70.1L85 78.6L82 80.6L77 74.1L73 77.1L67 81.6L60 76.1Z" fill="#a8e1d3"/><path d="M105 90.7L112 93.1L119.5 98.1L116 100.1L108 96.1L104 93.1Z" fill="#a8e1d3"/><path d="M133.6 96.1L139.4 96.1L139.4 98.6L133.6 98.6Z" fill="#a8e1d3"/><path d="M126 128.1L133.6 128.1L133.6 130.7L126 130.7Z" fill="#a8e1d3"/><path d="M184.7 141.6L196.4 141.6L196.4 143.8L184.7 143.8Z" fill="#a8e1d3"/><path d="M184 141.7L200 141.7L200 144.1L184 144.1Z" fill="#a8e1d3"/><path d="M109 104.6L108.6 105.7L107.5 106.7L105.9 107.4L104 107.6L102.1 107.4L100.5 106.7L99.4 105.7L99 104.6L99.4 103.5L100.5 102.5L102.1 101.8L104 101.6L105.9 101.8L107.5 102.5L108.6 103.5Z" fill="#ecdcb2"/><path d="M107.5 104.6L107.2 105.2L106.5 105.7L105.3 106.1L104 106.2L102.7 106.1L101.5 105.7L100.8 105.2L100.5 104.6L100.8 104L101.5 103.5L102.7 103.1L104 103L105.3 103.1L106.5 103.5L107.2 104Z" fill="#e6c88a"/><path d="M180 94.1L209 94.1L212 125.1L209 138.1L180 138.1Z" fill="#ecdcb2"/><path d="M180 97.1L200 95.1L206 115.1L200 137.1L180 137.1Z" fill="#e6c88a"/><path d="M182 95.1L196 93.1L200 109.1L192 121.1L182 115.1Z" fill="#d3a457"/><path d="M184 97.1L190 96.1L192 107.1L186 111.1Z" fill="#bb7a2e"/><path d="M186 121.1L200 123.1L198 133.1L186 131.1Z" fill="#edf0ef"/><path d="M197.5 90.1L237 90.1L237 98.7L197.5 98.7Z" fill="#d3a457"/><path d="M204 90.1L214 90.1L214 94.1L204 94.1Z" fill="#bb7a2e"/><path d="M218 71.7L237 71.7L237 79.1L218 79.1Z" fill="#e6c88a"/><path d="M222 73.1L233 73.1L233 77.6L222 77.6Z" fill="#d3a457"/><path d="M238 80.1L250 80.1L250 95.1L238 95.1Z" fill="#ecdcb2"/><path d="M242.8 79.6L245.3 82.1L242.8 84.6L240.3 82.1Z" fill="#e6c88a"/><path d="M242.8 94.2L245.1 96.5L242.8 98.8L240.5 96.5Z" fill="#a8e1d3"/><path d="M243 117.1L242.6 117.9L241.4 118.7L239.6 119.1L237.5 119.3L235.4 119.1L233.6 118.7L232.4 117.9L232 117.1L232.4 116.3L233.6 115.5L235.4 115.1L237.5 114.9L239.6 115.1L241.4 115.5L242.6 116.3Z" fill="#e6c88a"/><path d="M260 113.1L259.2 115L257.1 116.6L253.8 117.7L250 118.1L246.2 117.7L242.9 116.6L240.8 115L240 113.1L240.8 111.2L242.9 109.6L246.2 108.5L250 108.1L253.8 108.5L257.1 109.6L259.2 111.2Z" fill="#ecdcb2"/><path d="M235.5 126.4L256 129.1L256 134.1L246 136.6L236 134.1Z" fill="#a8e1d3"/><path d="M240 128.1L252 130.1L250 134.6L241 134.1Z" fill="#7fcbb8"/><path d="M248 131.6L247.8 132.3L247.1 132.9L246.1 133.3L245 133.4L243.9 133.3L242.9 132.9L242.2 132.3L242 131.6L242.2 130.9L242.9 130.3L243.9 129.9L245 129.8L246.1 129.9L247.1 130.3L247.8 130.9Z" fill="#4fa995"/><path d="M242.8 138.1L248.6 138.1L248.6 143.9L242.8 143.9Z" fill="#a8e1d3"/><path d="M112 90.1L180 88.1L184 115.1L178 135.1L160 141.1L140 137.1L118 125.1L112 110.1Z" fill="#ecdcb2"/><path d="M113 91.1L150 89.1L178 87.1L184 97.1L183 120.1L176 135.1L160 139.1L140 135.1L122 127.1L113 115.1Z" fill="#e6c88a"/><path d="M114 93.1L150 91.1L176 89.1L182 97.1L180 117.1L172 131.1L150 135.1L132 131.1L117 123.1L114 109.1Z" fill="#d3a457"/><path d="M114.6 91.1L130.7 91.1L130.7 95.6L114.6 95.6Z" fill="#bb7a2e"/><path d="M143 95.1L165 87.1L182 81.1L188 87.1L176 101.1L160 107.1L146 109.1Z" fill="#bb7a2e"/><path d="M169.7 105.9L170.1 111.5L167.3 117.3L162 122.5L154.8 126.3L146.9 128L139.4 127.5L133.6 124.8L130.3 120.3L129.9 114.7L132.7 108.9L138 103.7L145.2 99.9L153.1 98.2L160.6 98.7L166.4 101.4Z" fill="#bb7a2e"/><path d="M126.5 110.1L126 113.5L124.7 116.5L122.8 118.4L120.5 119.1L118.2 118.4L116.3 116.5L115 113.5L114.5 110.1L115 106.7L116.3 103.7L118.2 101.8L120.5 101.1L122.8 101.8L124.7 103.7L126 106.7Z" fill="#bb7a2e"/><path d="M167 99.1L176 107.1L173 125.1L166 117.1Z" fill="#bb7a2e"/><path d="M192 86.1L190.9 89.2L187.9 91.8L183.4 93.5L178 94.1L172.6 93.5L168.1 91.8L165.1 89.2L164 86.1L165.1 83L168.1 80.4L172.6 78.7L178 78.1L183.4 78.7L187.9 80.4L190.9 83Z" fill="#bb7a2e"/><path d="M161.8 109.1L162.2 113.3L160.3 117.7L156.3 121.8L150.9 124.8L145 126.4L139.3 126.2L134.8 124.4L132.2 121.1L131.8 116.9L133.7 112.5L137.7 108.4L143.1 105.4L149 103.8L154.7 104L159.2 105.8Z" fill="#9f5c1a"/><path d="M123.5 110.1L123.2 112.8L122.5 115L121.3 116.6L120 117.1L118.7 116.6L117.5 115L116.8 112.8L116.5 110.1L116.8 107.4L117.5 105.2L118.7 103.6L120 103.1L121.3 103.6L122.5 105.2L123.2 107.4Z" fill="#9f5c1a"/><path d="M168 102.1L174.5 109.1L172 121.1L167 114.1Z" fill="#9f5c1a"/><path d="M186 84.1L185.2 86.2L183.1 88L179.8 89.2L176 89.6L172.2 89.2L168.9 88L166.8 86.2L166 84.1L166.8 82L168.9 80.2L172.2 79L176 78.6L179.8 79L183.1 80.2L185.2 82Z" fill="#9f5c1a"/><path d="M148 101.1L165 93.1L170 97.1L155 108.1Z" fill="#9f5c1a"/><path d="M100 86.1L165 86.1L165 88.6L100 91.1Z" fill="#ffffff"/><path d="M197.5 79L237 79L237 90.1L197.5 90.1Z" fill="#ffffff"/><path d="M250 85.5L262 85.5L262 98.7L250 98.7Z" fill="#ffffff"/><path d="M210.7 131.5L223.8 131.5L223.8 136.6L210.7 136.6Z" fill="#ffffff"/></g><path d="M128 97.1L150 91.1L168 83.1L190 78.1L192 87.1L172 99.1L164 115.1L150 127.1L134 127.1L126 115.1Z" fill="url(#dots)"/><path d="M116 101.1L123 101.1L123 117.1L116 117.1Z" fill="url(#dots)"/><path d="M217 89.1L230 89.1L230 92.1L217 92.1Z" fill="url(#dots)"/><path d="M234 116.1L250 125.1L250 137.1L234 137.1Z" fill="url(#dots)"/><path d="M261 109.1L264 109.1L264 112.1L261 112.1Z" fill="url(#dots)"/><path d="M258 124.1L261 124.1L261 127.1L258 127.1Z" fill="url(#dots)"/></g><path d="M54 91L59.5 85.3L60 79.2L59 72.5L64.2 68.7L74.7 64.4L83.2 60.7L89.8 57.3L95.5 55.9L97 54L101.2 52.4L107.9 52.1L110.7 54L106 56.4L100.8 59.7L95.5 60.5L89.8 61.6L87 64.4L86.8 67.3L89.8 73.5L94.6 79.2L102.2 83L115 86.7L120 87.6L128.8 87.7L141.1 85.7L155.1 81.7L160 79.6L171 76.5L180 75.3L187.4 74.9L195 76L205.8 81.3L211.4 78.9L210.5 84.8L218.6 84.5L211.4 78.9L209.6 72.5L214.3 70.8L223 68.4L230 67.8L235 68.4L240.3 69.6L249.4 73.2L258.5 77.8L262.2 82.4L262.4 89.7L267.7 94.2L273.1 100.6L275.3 107.6L274.3 113.7L269.5 120.1L264.9 126.5L262.4 139.5L254.9 145.3L248.5 149.3L238.5 144.7L231.2 142L223.9 137.4L218.4 136.1L207.4 141.1L198.3 145.6L178.2 146.5L163.1 145.7L152.2 142L143 139.6L135.8 137.1L124.8 132L113.9 127.4L104.7 121.9L99.3 116.5L92 108.2L84.7 101.5L77.5 96.4L69 94.3L58.5 95.3L54 91Z" fill="none" stroke="#16168e" stroke-width="1.9" stroke-linejoin="round"/></g><g transform="translate(0,350.2)"><g clip-path="url(#tpclip)"><g filter="url(#sblur)"><path d="M55 95L55 68L73 64L73 62L85 58L86 77L93 78L93 85L105 85L105 90L160 90L200 92L262 92L276 100L276 146L56 146Z" fill="#edf0ef"/><path d="M95 52L112 52L112 58L95 60Z" fill="#edf0ef"/><path d="M73.5 70.2L82 78.6L73.5 87L65 78.6Z" fill="#a8e1d3"/><path d="M73.5 74.2L78 78.6L73.5 83L69 78.6Z" fill="#edf0ef"/><path d="M66 81.7L79 78.7L96 84.7L106.5 90.7L113 95.7L115 101.7L111 115.7L108 115.7L110 101.7L104 94.7L94 89.7L80 85.7L68 89.7Z" fill="#a8e1d3"/><path d="M104 84.7L116 85.7L118 97.7L116 116.7L106 116.7L104 101.7Z" fill="#a8e1d3"/><path d="M131 90.7L145 90.7L143 97.7L133 97.7Z" fill="#a8e1d3"/><path d="M90 48.7L95 48.7L95 54.7L90 54.7Z" fill="#a8e1d3"/><path d="M115 89.7L200 89.7L270 93.7L270 124.7L255 141.7L200 141.7L150 141.7L125 137.7L118 121.7Z" fill="#ecdcb2"/><path d="M118 95.7L200 95.7L269 97.7L269 123.7L240 127.7L200 129.7L160 139.7L128 134.7L118 119.7Z" fill="#e6c88a"/><path d="M118 97.9L165 97.9L180 101.7L182 123.6L150 129.7L128 127.7L118 119.7Z" fill="#d3a457"/><path d="M182 98.7L228 98.7L228 122.7L182 122.7Z" fill="#e6c88a"/><path d="M193 102.3L205.5 104.7L203 114.5L193 111.7Z" fill="#edf0ef"/><path d="M205 115.7L215 115.7L215 122.7L205 122.7Z" fill="#edf0ef"/><path d="M228 99.7L269.5 99.7L269.5 121.7L228 121.7Z" fill="#d3a457"/><path d="M258 101.7L269 101.7L269 119.7L258 119.7Z" fill="#ecdcb2"/><path d="M164 98.7L173 99.7L178.5 107.7L172 117.2L163 108.7Z" fill="#bb7a2e"/><path d="M166 100.7L172 101.7L176 107.7L171 114.7L165 108.7Z" fill="#9f5c1a"/><path d="M163 111.7L161.7 115.5L158 118.8L152.5 120.9L146 121.7L139.5 120.9L134 118.8L130.3 115.5L129 111.7L130.3 107.9L134 104.6L139.5 102.5L146 101.7L152.5 102.5L158 104.6L161.7 107.9Z" fill="#bb7a2e"/><path d="M155 111.7L154.2 114.4L151.8 116.6L148.2 118.2L144 118.7L139.8 118.2L136.2 116.6L133.8 114.4L133 111.7L133.8 109L136.2 106.8L139.8 105.2L144 104.7L148.2 105.2L151.8 106.8L154.2 109Z" fill="#9f5c1a"/><path d="M124.5 111.7L124.2 114.8L123.2 117.4L121.7 119.1L120 119.7L118.3 119.1L116.8 117.4L115.8 114.8L115.5 111.7L115.8 108.6L116.8 106L118.3 104.3L120 103.7L121.7 104.3L123.2 106L124.2 108.6Z" fill="#bb7a2e"/><path d="M262 111.7L260.8 114.8L257.3 117.4L252.1 119.1L246 119.7L239.9 119.1L234.7 117.4L231.2 114.8L230 111.7L231.2 108.6L234.7 106L239.9 104.3L246 103.7L252.1 104.3L257.3 106L260.8 108.6Z" fill="#bb7a2e"/><path d="M256 112.7L255.5 114.4L253.9 115.9L251.7 116.9L249 117.2L246.3 116.9L244.1 115.9L242.5 114.4L242 112.7L242.5 111L244.1 109.5L246.3 108.5L249 108.2L251.7 108.5L253.9 109.5L255.5 111Z" fill="#9f5c1a"/><path d="M195 104.7L194.5 105.8L192.9 106.8L190.7 107.5L188 107.7L185.3 107.5L183.1 106.8L181.5 105.8L181 104.7L181.5 103.6L183.1 102.6L185.3 101.9L188 101.7L190.7 101.9L192.9 102.6L194.5 103.6Z" fill="#e6c88a"/><path d="M125 122.7L155.6 122.7L155.6 139.7L125 135.7Z" fill="#d3a457"/><path d="M130 125.7L150 125.7L150 135.7L132 133.7Z" fill="#bb7a2e"/><path d="M160 77.7L196.8 77.7L198.5 97L160 97Z" fill="#e6c88a"/><path d="M160 81.7L196 81.7L198 95.7L160 95.7Z" fill="#d3a457"/><path d="M177 82.7L176.5 84.2L175.2 85.5L173.3 86.4L171 86.7L168.7 86.4L166.8 85.5L165.5 84.2L165 82.7L165.5 81.2L166.8 79.9L168.7 79L171 78.7L173.3 79L175.2 79.9L176.5 81.2Z" fill="#bb7a2e"/><path d="M198.5 88.7L198.2 90.4L197.5 91.9L196.3 92.9L195 93.2L193.7 92.9L192.5 91.9L191.8 90.4L191.5 88.7L191.8 87L192.5 85.5L193.7 84.5L195 84.2L196.3 84.5L197.5 85.5L198.2 87Z" fill="#9f5c1a"/><path d="M162 98.7L170 98.7L170 112.4L162 112.4Z" fill="#bb7a2e"/><path d="M217.8 71.7L237 71.7L237 78.7L217.8 78.7Z" fill="#e6c88a"/><path d="M222 73.2L233 73.2L233 77.2L222 77.2Z" fill="#d3a457"/><path d="M240 85.7L251 85.7L251 97.7L240 97.7Z" fill="#e6c88a"/><path d="M160 124.7L200 124.7L205 141.7L160 144.7Z" fill="#ecdcb2"/><path d="M165 127.7L185 126.7L190 137.7L168 139.7Z" fill="#e6c88a"/><path d="M200 125.7L226 125.7L226 139.7L200 139.7Z" fill="#edf0ef"/><path d="M226.6 128.5L245 129.7L256.4 135.7L256.4 142.6L246 141.7L234 135.7Z" fill="#a8e1d3"/><path d="M230 129.7L245 131.7L254 137.7L252 141.7L240 136.7Z" fill="#7fcbb8"/><path d="M249 135.7L248.6 136.7L247.5 137.5L245.9 138L244 138.2L242.1 138L240.5 137.5L239.4 136.7L239 135.7L239.4 134.7L240.5 133.9L242.1 133.4L244 133.2L245.9 133.4L247.5 133.9L248.6 134.7Z" fill="#4fa995"/><path d="M100 85.7L165 85.7L165 88.2L100 90.7Z" fill="#ffffff"/><path d="M196.8 83.7L217.8 83.7L217.8 91.7L196.8 91.7Z" fill="#ffffff"/><path d="M210.8 130.3L224.8 130.3L224.8 137.3L210.8 137.3Z" fill="#ffffff"/><path d="M250 85.7L262 85.7L262 96.7L250 96.7Z" fill="#ffffff"/></g><path d="M73 84.7L81 90.7L80 94.7L72 89.7Z" fill="url(#dots)"/><path d="M116 102.7L124 102.7L124 119.7L116 119.7Z" fill="url(#dots)"/><path d="M130 103.7L160 101.7L164 117.7L150 119.7L130 119.7Z" fill="url(#dots)"/><path d="M125 124.7L150 127.7L160 137.7L140 139.7L125 129.7Z" fill="url(#dots)"/><path d="M200 113.7L222 113.7L222 130.7L200 130.7Z" fill="url(#dots)"/><path d="M234 102.7L268 102.7L268 120.7L234 120.7Z" fill="url(#dots)"/><path d="M228 127.7L232 127.7L232 131.7L228 131.7Z" fill="url(#dots)"/><path d="M248 138.7L252 138.7L252 141.7L248 141.7Z" fill="url(#dots)"/></g><path d="M54 91L59.5 85.3L60 79.2L59 72.5L64.2 68.7L74.7 64.4L83.2 60.7L89.8 57.3L95.5 55.9L97 54L101.2 52.4L107.9 52.1L110.7 54L106 56.4L100.8 59.7L95.5 60.5L89.8 61.6L87 64.4L86.8 67.3L89.8 73.5L94.6 79.2L102.2 83L115 86.7L120 87.6L128.8 87.7L141.1 85.7L155.1 81.7L160 79.6L171 76.5L180 75.3L187.4 74.9L195 76L205.8 81.3L211.4 78.9L210.5 84.8L218.6 84.5L211.4 78.9L209.6 72.5L214.3 70.8L223 68.4L230 67.8L235 68.4L240.3 69.6L249.4 73.2L258.5 77.8L262.2 82.4L262.4 89.7L267.7 94.2L273.1 100.6L275.3 107.6L274.3 113.7L269.5 120.1L264.9 126.5L262.4 139.5L254.9 145.3L248.5 149.3L238.5 144.7L231.2 142L223.9 137.4L218.4 136.1L207.4 141.1L198.3 145.6L178.2 146.5L163.1 145.7L152.2 142L143 139.6L135.8 137.1L124.8 132L113.9 127.4L104.7 121.9L99.3 116.5L92 108.2L84.7 101.5L77.5 96.4L69 94.3L58.5 95.3L54 91Z" fill="none" stroke="#16168e" stroke-width="1.9" stroke-linejoin="round"/><rect x="119.3" y="97.8" width="150.2" height="26.1" fill="none" stroke="#a020f0" stroke-width="1.6"/></g><filter id="cm0" x="0" y="0" width="349.2" height="130.9" filterUnits="userSpaceOnUse" color-interpolation-filters="sRGB"><feGaussianBlur in="SourceGraphic" stdDeviation="1.3" result="b"/><feTurbulence type="fractalNoise" baseFrequency="0.17" numOctaves="3" seed="3" result="n"/><feColorMatrix in="n" type="matrix" values="1 0 0 0 0  1 0 0 0 0  1 0 0 0 0  0 0 0 0 1" result="ng"/><feComposite in="b" in2="ng" operator="arithmetic" k1="3.0" k2="-0.5" k3="0" k4="-0.02" result="v"/><feComponentTransfer in="v"><feFuncR type="discrete" tableValues="0.9647 0.2706 0.2471 0.2980 0.5255 0.7020 0.8902 0.9765 0.9686 0.9569 0.9412 0.9098"/><feFuncG type="discrete" tableValues="0.9843 0.5961 0.6431 0.7137 0.7686 0.8314 0.8863 0.8510 0.7098 0.5882 0.4549 0.3529"/><feFuncB type="discrete" tableValues="0.9961 0.6510 0.4078 0.2824 0.3255 0.3216 0.3529 0.3529 0.2941 0.2392 0.1882 0.1569"/><feFuncA type="linear" slope="0" intercept="1"/></feComponentTransfer></filter><g transform="translate(335.2,32.7)"><g filter="url(#cm0)"><rect x="0" y="0" width="349.2" height="130.9" fill="#000"/><path d="M17.5 76.8L26.2 76.8L26.2 82.1L17.5 82.1Z" fill="rgb(44,44,44)"/><path d="M51 84.7L50.6 83.5L49.5 82.6L48 82.1L46.3 82.1L44.7 82.6L43.7 83.5L43.3 84.7L43.7 85.8L44.7 86.7L46.3 87.2L48 87.2L49.5 86.7L50.6 85.8Z" fill="rgb(55,55,55)"/><path d="M55.9 80.3L64.6 82.1L65.5 92.5L57.6 90.8Z" fill="rgb(41,41,41)"/><path d="M75.1 78.6L96 78.6L96 92.5L76.8 92.5Z" fill="rgb(44,44,44)"/><path d="M101.3 104.8L111.7 104.8L111.7 115.2L101.3 115.2Z" fill="rgb(52,52,52)"/><path d="M92.5 117L104.8 117L104.8 129.2L92.5 129.2Z" fill="rgb(55,55,55)"/><path d="M99.9 125.7L99.7 124.8L99.1 124.1L98.2 123.7L97.3 123.7L96.5 124.1L95.9 124.8L95.7 125.7L95.9 126.6L96.5 127.4L97.3 127.8L98.2 127.8L99.1 127.4L99.7 126.6Z" fill="rgb(102,102,102)"/><path d="M50.8 118.4L50.5 116.7L49.6 115.4L48.4 114.6L47 114.6L45.7 115.4L44.8 116.7L44.5 118.4L44.8 120L45.7 121.4L47 122.1L48.4 122.1L49.6 121.4L50.5 120Z" fill="rgb(75,75,75)"/><path d="M49.1 118.7L48.9 118L48.5 117.4L48 117L47.4 117L46.8 117.4L46.4 118L46.3 118.7L46.4 119.5L46.8 120.1L47.4 120.4L48 120.4L48.5 120.1L48.9 119.5Z" fill="rgb(107,107,107)"/><path d="M82.1 126.4L89 126.4L89 130.9L82.1 130.9Z" fill="rgb(50,50,50)"/><path d="M94.3 68.1L104.8 68.1L111.7 78.6L108.3 96L101.3 96L96 82.1L92.5 75.1Z" fill="rgb(55,55,55)"/><path d="M110 101.3L124 101.3L124 108.3L110 108.3Z" fill="rgb(67,67,67)"/><path d="M137.9 93.4L137.6 92.3L136.6 91.4L135.2 90.9L133.7 90.9L132.3 91.4L131.3 92.3L130.9 93.4L131.3 94.5L132.3 95.5L133.7 96L135.2 96L136.6 95.5L137.6 94.5Z" fill="rgb(41,41,41)"/><path d="M104.8 89L115.2 89L115.2 103L104.8 103Z" fill="rgb(38,38,38)"/><path d="M129.2 58.5L128.9 57.4L127.9 56.4L126.5 55.9L124.9 55.9L123.5 56.4L122.6 57.4L122.2 58.5L122.6 59.6L123.5 60.5L124.9 61L126.5 61L127.9 60.5L128.9 59.6Z" fill="rgb(44,44,44)"/><path d="M151.9 41.9L151.5 41L150.3 40.3L148.5 39.9L146.6 39.9L144.8 40.3L143.6 41L143.2 41.9L143.6 42.8L144.8 43.5L146.6 43.9L148.5 43.9L150.3 43.5L151.5 42.8Z" fill="rgb(44,44,44)"/><path d="M160.6 89L165.9 92.5L169.4 106.5L167.6 115.2L164.1 110L161.5 97.8Z" fill="rgb(52,52,52)"/><path d="M253.9 63L259.8 63.7L260.2 69.8L254.9 70.5Z" fill="rgb(75,75,75)"/><path d="M260.9 70.2L267.1 69L267.1 73.3L261.9 76.3Z" fill="rgb(75,75,75)"/><path d="M199 47.8L211.3 47.8L211.3 54.8L199 54.8Z" fill="rgb(50,50,50)"/><path d="M230.5 63.7L230.2 62.2L229.5 61L228.4 60.3L227.3 60.3L226.2 61L225.5 62.2L225.2 63.7L225.5 65.2L226.2 66.5L227.3 67.1L228.4 67.1L229.5 66.5L230.2 65.2Z" fill="rgb(50,50,50)"/><path d="M240.9 34.4L240.3 32.9L238.3 31.7L235.5 31L232.4 31L229.6 31.7L227.7 32.9L227 34.4L227.7 35.9L229.6 37.1L232.4 37.8L235.5 37.8L238.3 37.1L240.3 35.9Z" fill="rgb(47,47,47)"/><path d="M260.2 28.6L259.6 27.7L258.2 27L256.1 26.6L253.8 26.6L251.7 27L250.2 27.7L249.7 28.6L250.2 29.5L251.7 30.3L253.8 30.7L256.1 30.7L258.2 30.3L259.6 29.5Z" fill="rgb(52,52,52)"/><path d="M276.9 43.6L276.6 42.7L275.9 42L274.7 41.6L273.5 41.6L272.4 42L271.6 42.7L271.3 43.6L271.6 44.6L272.4 45.3L273.5 45.7L274.7 45.7L275.9 45.3L276.6 44.6Z" fill="rgb(50,50,50)"/><path d="M317.2 21.5L316.7 20.8L315.1 20.2L312.9 19.9L310.4 19.9L308.2 20.2L306.6 20.8L306.1 21.5L306.6 22.2L308.2 22.7L310.4 23L312.9 23L315.1 22.7L316.7 22.2Z" fill="rgb(101,101,101)"/><path d="M304.7 24.3L304.2 23.7L303 23.3L301.3 23.1L299.3 23.1L297.6 23.3L296.4 23.7L295.9 24.3L296.4 24.8L297.6 25.2L299.3 25.5L301.3 25.5L303 25.2L304.2 24.8Z" fill="rgb(95,95,95)"/><path d="M325.6 19.7L325.4 19L324.6 18.5L323.6 18.2L322.4 18.2L321.4 18.5L320.7 19L320.4 19.7L320.7 20.4L321.4 21L322.4 21.3L323.6 21.3L324.6 21L325.4 20.4Z" fill="rgb(61,61,61)"/><path d="M335.6 22.7L335.4 22.2L334.8 21.9L334 21.7L333 21.7L332.2 21.9L331.6 22.2L331.4 22.7L331.6 23.2L332.2 23.5L333 23.7L334 23.7L334.8 23.5L335.4 23.2Z" fill="rgb(52,52,52)"/><path d="M316.3 27.1L315.4 26.4L314.2 26.2L313.1 26.5L312.2 27.2L311.7 28.3L311.7 29.5L312.3 30.5L313.2 31.2L314.3 31.4L315.5 31.1L316.4 30.4L316.8 29.3L316.8 28.2Z" fill="rgb(92,92,92)"/><path d="M335.2 26.2L335.1 25.6L334.6 25.1L333.9 24.8L333.1 24.8L332.4 25.1L331.9 25.6L331.7 26.2L331.9 26.8L332.4 27.3L333.1 27.6L333.9 27.6L334.6 27.3L335.1 26.8Z" fill="rgb(41,41,41)"/><path d="M162.4 29.7L162.2 29.1L161.7 28.6L161 28.3L160.2 28.3L159.5 28.6L159.1 29.1L158.9 29.7L159.1 30.3L159.5 30.8L160.2 31L161 31L161.7 30.8L162.2 30.3Z" fill="rgb(41,41,41)"/><path d="M150.2 32.3L150 31.7L149.5 31.2L148.8 30.9L148 30.9L147.3 31.2L146.8 31.7L146.7 32.3L146.8 32.9L147.3 33.4L148 33.7L148.8 33.7L149.5 33.4L150 32.9Z" fill="rgb(41,41,41)"/><path d="M176.3 56.7L176.2 56.1L175.7 55.7L175 55.4L174.2 55.4L173.5 55.7L173 56.1L172.9 56.7L173 57.4L173.5 57.8L174.2 58.1L175 58.1L175.7 57.8L176.2 57.4Z" fill="rgb(41,41,41)"/><path d="M17.5 34.9L24.4 28.8L34.9 29.7L37.5 40.2L33.2 42.8L24.4 41L17.5 40.2Z" fill="rgb(81,81,81)"/><path d="M43.6 22.7L55.9 21L64.6 26.2L62.9 33.2L52.4 30.6L45.4 29.7Z" fill="rgb(67,67,67)"/><path d="M59.3 26L58.7 25.3L56.9 24.5L54.1 23.7L51.1 23.2L48.3 23L46.3 23.1L45.5 23.6L46.1 24.3L47.9 25.1L50.6 25.9L53.7 26.4L56.5 26.6L58.5 26.5Z" fill="rgb(102,102,102)"/><path d="M59.4 34.9L69.8 31.4L83.8 29.7L96 26.2L104.8 22.7L113.5 15.7L125.7 13.1L139.7 14L146.7 26.2L143.2 40.2L130.9 40.2L118.7 40.2L104.8 41.9L90.8 43.6L78.6 48.9L69.8 48.9L59.4 43.6Z" fill="rgb(52,52,52)"/><path d="M69.8 36.7L96 30.6L113.5 26.2L130.9 22.7L139.7 29.7L134.4 36.7L113.5 38.4L87.3 40.2L73.3 40.2Z" fill="rgb(67,67,67)"/><path d="M125.4 29.5L124.8 28.6L123.4 27.9L121.3 27.5L119 27.5L116.9 27.9L115.4 28.6L114.9 29.5L115.4 30.4L116.9 31.1L119 31.6L121.3 31.6L123.4 31.1L124.8 30.4Z" fill="rgb(92,92,92)"/><path d="M97.3 30.9L97 30.1L96.1 29.5L94.9 29.2L93.6 29.2L92.4 29.5L91.6 30.1L91.3 30.9L91.6 31.7L92.4 32.3L93.6 32.6L94.9 32.6L96.1 32.3L97 31.7Z" fill="rgb(101,101,101)"/><path d="M80.3 36.7L79.9 35.5L78.7 34.6L76.9 34.1L75 34.1L73.2 34.6L72 35.5L71.6 36.7L72 37.8L73.2 38.7L75 39.2L76.9 39.2L78.7 38.7L79.9 37.8Z" fill="rgb(95,95,95)"/><path d="M128.2 23.9L127.6 22.4L125.9 21.2L123.5 20.5L120.9 20.5L118.5 21.2L116.9 22.4L116.3 23.9L116.9 25.4L118.5 26.7L120.9 27.3L123.5 27.3L125.9 26.7L127.6 25.4Z" fill="rgb(0,0,0)"/><path d="M31.4 48.9L52.4 47.1L59.4 50.6L52.4 54.1L38.4 55.9L31.4 54.1Z" fill="rgb(38,38,38)"/><path d="M48.9 48.9L69.8 50.6L83.8 54.1L80.3 61.1L66.3 61.1L57.6 57.6L48.9 54.1Z" fill="rgb(50,50,50)"/><path d="M28.8 65.8L28.5 65.1L27.8 64.5L26.8 64.1L25.6 64.1L24.6 64.5L23.8 65.1L23.6 65.8L23.8 66.6L24.6 67.2L25.6 67.5L26.8 67.5L27.8 67.2L28.5 66.6Z" fill="rgb(44,44,44)"/><path d="M68.1 15.7L94.3 15.7L94.3 29.7L68.1 29.7Z" fill="rgb(24,24,24)"/><path d="M82.1 61.1L104.8 59.4L111.7 64.6L97.8 67.2L83.8 66.3Z" fill="rgb(38,38,38)"/><path d="M99.5 49.8L106.5 49.8L113.5 54.1L118.7 59.4L120.5 66.3L117 71.6L111.7 69.8L106.5 66.3L101.3 61.1L99.5 55.9Z" fill="rgb(90,90,90)"/><path d="M111.7 64.6L122.2 65.5L125.7 71.6L124 78.6L118.7 78.6L113.5 73.3Z" fill="rgb(84,84,84)"/><path d="M104.8 76.8L117 76.8L117 92.5L108.3 96L104.8 89Z" fill="rgb(61,61,61)"/><path d="M113.5 85.6L113.2 84.4L112.5 83.5L111.5 83L110.3 83L109.2 83.5L108.5 84.4L108.3 85.6L108.5 86.7L109.2 87.6L110.3 88.1L111.5 88.1L112.5 87.6L113.2 86.7Z" fill="rgb(97,97,97)"/><path d="M110 58.8L109.8 58.1L109.3 57.5L108.6 57.1L107.9 57.1L107.2 57.5L106.7 58.1L106.5 58.8L106.7 59.6L107.2 60.2L107.9 60.5L108.6 60.5L109.3 60.2L109.8 59.6Z" fill="rgb(191,191,191)"/><path d="M115.2 62.9L115 61.7L114.2 60.8L113.2 60.3L112 60.3L111 60.8L110.3 61.7L110 62.9L110.3 64L111 64.9L112 65.4L113.2 65.4L114.2 64.9L115 64Z" fill="rgb(115,115,115)"/><path d="M124 73.3L123.6 72.2L122.7 71.3L121.3 70.8L119.7 70.8L118.3 71.3L117.3 72.2L117 73.3L117.3 74.5L118.3 75.4L119.7 75.9L121.3 75.9L122.7 75.4L123.6 74.5Z" fill="rgb(115,115,115)"/><path d="M91.7 41L91.2 39.1L90 37.6L88.3 36.8L86.3 36.8L84.6 37.6L83.4 39.1L82.9 41L83.4 42.9L84.6 44.4L86.3 45.3L88.3 45.3L90 44.4L91.2 42.9Z" fill="rgb(61,61,61)"/><path d="M211.3 69.8L218.2 65.5L223.5 60.2L228.7 60.2L230.5 64.6L237.5 68.1L244.4 71.6L247.1 75.1L246.2 82.1L240.9 87.3L230.5 89.9L223.5 89L216.5 87.3L211.3 82.1L209.5 75.1Z" fill="rgb(90,90,90)"/><path d="M223.5 58.5L232.2 58.5L232.2 63.7L223.5 63.7Z" fill="rgb(50,50,50)"/><path d="M242.7 78.6L242.1 76.3L240.4 74.5L237.9 73.5L235.2 73.5L232.8 74.5L231.1 76.3L230.5 78.6L231.1 80.8L232.8 82.7L235.2 83.7L237.9 83.7L240.4 82.7L242.1 80.8Z" fill="rgb(115,115,115)"/><path d="M226.8 73L226.6 72.1L226 71.3L225.2 70.9L224.2 70.9L223.4 71.3L222.8 72.1L222.6 73L222.8 73.9L223.4 74.6L224.2 75L225.2 75L226 74.6L226.6 73.9Z" fill="rgb(178,178,178)"/><path d="M220 77.3L219.8 76.2L219.2 75.3L218.4 74.8L217.4 74.8L216.6 75.3L216 76.2L215.8 77.3L216 78.5L216.6 79.4L217.4 79.9L218.4 79.9L219.2 79.4L219.8 78.5Z" fill="rgb(153,153,153)"/><path d="M223.5 71.6L223.1 70.4L222.2 69.5L220.8 69L219.2 69L217.8 69.5L216.8 70.4L216.5 71.6L216.8 72.7L217.8 73.6L219.2 74.1L220.8 74.1L222.2 73.6L223.1 72.7Z" fill="rgb(107,107,107)"/><path d="M219.1 89.9L218.9 89.2L218.1 88.6L217.1 88.2L215.9 88.2L214.9 88.6L214.1 89.2L213.9 89.9L214.1 90.7L214.9 91.3L215.9 91.6L217.1 91.6L218.1 91.3L218.9 90.7Z" fill="rgb(50,50,50)"/><path d="M214.8 95.2L214.4 94L213.4 93.1L212 92.6L210.5 92.6L209.1 93.1L208.1 94L207.8 95.2L208.1 96.3L209.1 97.2L210.5 97.7L212 97.7L213.4 97.2L214.4 96.3Z" fill="rgb(44,44,44)"/><path d="M225.2 107.4L225 106L224.2 104.9L223.2 104.3L222 104.3L221 104.9L220.3 106L220 107.4L220.3 108.7L221 109.8L222 110.4L223.2 110.4L224.2 109.8L225 108.7Z" fill="rgb(75,75,75)"/><path d="M224.5 109.1L224.4 108.7L224.1 108.3L223.7 108.1L223.3 108.1L222.8 108.3L222.5 108.7L222.4 109.1L222.5 109.6L222.8 109.9L223.3 110.1L223.7 110.1L224.1 109.9L224.4 109.6Z" fill="rgb(153,153,153)"/><path d="M153.6 78.6L167.6 73.3L178.1 78.6L185.1 83.8L181.6 89L174.6 94.3L169.4 96L165.9 89L158.9 89L153.6 85.6Z" fill="rgb(84,84,84)"/><path d="M164.1 76.8L172.9 78.6L174.6 87.3L167.6 89L162.4 83.8Z" fill="rgb(117,117,117)"/><path d="M161.5 94.3L165.9 94.3L170.2 113.5L167.6 116.5L164.1 108.3Z" fill="rgb(67,67,67)"/><path d="M174.6 76.8L188.6 81.2L195.6 82.1L195.6 84.7L185.1 84.7L174.6 81.2Z" fill="rgb(90,90,90)"/><path d="M171.1 82.9L170.8 81.8L170.1 80.9L169.1 80.4L167.9 80.4L166.9 80.9L166.1 81.8L165.9 82.9L166.1 84.1L166.9 85L167.9 85.5L169.1 85.5L170.1 85L170.8 84.1Z" fill="rgb(173,173,173)"/><path d="M160.6 89L165.9 92.5L169.4 106.5L167.6 115.2L164.1 110L161.5 97.8Z" fill="rgb(52,52,52)"/><path d="M165.9 67.2L165.3 65.3L163.6 63.8L161.1 63L158.4 63L155.9 63.8L154.3 65.3L153.6 67.2L154.3 69.1L155.9 70.6L158.4 71.5L161.1 71.5L163.6 70.6L165.3 69.1Z" fill="rgb(92,92,92)"/><path d="M158.4 65.8L158.2 64.9L157.8 64.2L157.3 63.8L156.7 63.8L156.1 64.2L155.7 64.9L155.6 65.8L155.7 66.7L156.1 67.5L156.7 67.9L157.3 67.9L157.8 67.5L158.2 66.7Z" fill="rgb(217,217,217)"/><path d="M164.1 73.3L174.6 76.8L181.6 82.1L178.1 87.3L169.4 89L164.1 80.3Z" fill="rgb(97,97,97)"/><path d="M174.6 80.3L174.2 78.4L173 76.9L171.2 76.1L169.3 76.1L167.5 76.9L166.3 78.4L165.9 80.3L166.3 82.2L167.5 83.7L169.3 84.6L171.2 84.6L173 83.7L174.2 82.2Z" fill="rgb(158,158,158)"/><path d="M183.3 68.1L209.5 67.2L213 69.8L185.1 69.8Z" fill="rgb(61,61,61)"/><path d="M184.2 70.2L211.3 70.2L211.3 78L184.2 78Z" fill="rgb(115,115,115)"/><path d="M174.6 69.8L183.3 69.8L183.3 76.8L174.6 76.8Z" fill="rgb(0,0,0)"/><path d="M200.8 73.7L200 72.4L197.8 71.4L194.7 70.8L191.2 70.8L188 71.4L185.9 72.4L185.1 73.7L185.9 75L188 76L191.2 76.6L194.7 76.6L197.8 76L200 75Z" fill="rgb(255,255,255)"/><path d="M206.9 74L206.4 73L204.9 72.1L202.8 71.6L200.5 71.6L198.4 72.1L196.9 73L196.4 74L196.9 75.1L198.4 75.9L200.5 76.4L202.8 76.4L204.9 75.9L206.4 75.1Z" fill="rgb(230,230,230)"/><path d="M209.5 73.9L208.3 72.3L204.9 71.1L200 70.5L194.6 70.5L189.7 71.1L186.3 72.3L185.1 73.9L186.3 75.4L189.7 76.6L194.6 77.3L200 77.3L204.9 76.6L208.3 75.4Z" fill="rgb(153,153,153)"/><path d="M181.6 76.8L209.5 76.8L209.5 80.3L185.1 81.2Z" fill="rgb(84,84,84)"/><path d="M209.5 71.6L220 69.8L223.5 78.6L216.5 87.3L209.5 83.8Z" fill="rgb(107,107,107)"/><path d="M220 78.6L219.7 76.7L218.7 75.2L217.3 74.3L215.7 74.3L214.3 75.2L213.4 76.7L213 78.6L213.4 80.5L214.3 82L215.7 82.8L217.3 82.8L218.7 82L219.7 80.5Z" fill="rgb(166,166,166)"/><path d="M174.6 59.7L174.3 59.1L173.6 58.6L172.6 58.4L171.4 58.4L170.3 58.6L169.6 59.1L169.4 59.7L169.6 60.3L170.3 60.8L171.4 61.1L172.6 61.1L173.6 60.8L174.3 60.3Z" fill="rgb(55,55,55)"/></g><g clip-path="url(#eclip)"><use href="#coast"/><path d="M157.1 68L158.6 66.5L158.7 64.9L158.5 63.1L159.9 62.1L162.7 60.9L164.9 59.9L166.7 59L168.2 58.6L168.6 58.1L169.8 57.7L171.5 57.6L172.3 58.1L171 58.8L169.7 59.7L168.2 59.9L166.7 60.2L166 60.9L165.9 61.7L166.7 63.3L168 64.9L170 65.9L173.4 66.9L174.8 67.1L177.1 67.1L180.4 66.6L184.2 65.5L185.5 65L188.4 64.1L190.8 63.8L192.8 63.7L194.8 64L197.7 65.4L199.2 64.8L199 66.4L201.1 66.3L199.2 64.8L198.7 63.1L200 62.6L202.3 62L204.2 61.8L205.5 62L206.9 62.3L209.4 63.3L211.8 64.5L212.8 65.7L212.9 67.7L214.3 68.9L215.7 70.6L216.3 72.5L216 74.1L214.7 75.8L213.5 77.5L212.9 81L210.8 82.5L209.1 83.6L206.5 82.4L204.5 81.7L202.6 80.4L201.1 80.1L198.1 81.4L195.7 82.6L190.3 82.9L186.3 82.6L183.4 81.7L180.9 81L179 80.3L176.1 79L173.2 77.8L170.7 76.3L169.2 74.8L167.3 72.6L165.3 70.8L163.4 69.5L161.1 68.9L158.3 69.2L157.1 68Z" fill="none" stroke="#16168e" stroke-width="1.7" stroke-linejoin="round"/><circle cx="151.7" cy="71.1" r="1.1" fill="#1c1c96"/><rect x="174.6" y="69.8" width="40.2" height="7" fill="none" stroke="#a020f0" stroke-width="1.3"/></g></g><filter id="cm1" x="0" y="0" width="349.2" height="130.9" filterUnits="userSpaceOnUse" color-interpolation-filters="sRGB"><feGaussianBlur in="SourceGraphic" stdDeviation="1.3" result="b"/><feTurbulence type="fractalNoise" baseFrequency="0.17" numOctaves="3" seed="10" result="n"/><feColorMatrix in="n" type="matrix" values="1 0 0 0 0  1 0 0 0 0  1 0 0 0 0  0 0 0 0 1" result="ng"/><feComposite in="b" in2="ng" operator="arithmetic" k1="3.0" k2="-0.5" k3="0" k4="-0.02" result="v"/><feComponentTransfer in="v"><feFuncR type="discrete" tableValues="0.9647 0.2706 0.2471 0.2980 0.5255 0.7020 0.8902 0.9765 0.9686 0.9569 0.9412 0.9098"/><feFuncG type="discrete" tableValues="0.9843 0.5961 0.6431 0.7137 0.7686 0.8314 0.8863 0.8510 0.7098 0.5882 0.4549 0.3529"/><feFuncB type="discrete" tableValues="0.9961 0.6510 0.4078 0.2824 0.3255 0.3216 0.3529 0.3529 0.2941 0.2392 0.1882 0.1569"/><feFuncA type="linear" slope="0" intercept="1"/></feComponentTransfer></filter><g transform="translate(335.2,207.4)"><g filter="url(#cm1)"><rect x="0" y="0" width="349.2" height="130.9" fill="#000"/><path d="M17.5 76.8L26.2 76.8L26.2 82.1L17.5 82.1Z" fill="rgb(44,44,44)"/><path d="M51 84.7L50.6 83.5L49.5 82.6L48 82.1L46.3 82.1L44.7 82.6L43.7 83.5L43.3 84.7L43.7 85.8L44.7 86.7L46.3 87.2L48 87.2L49.5 86.7L50.6 85.8Z" fill="rgb(55,55,55)"/><path d="M55.9 80.3L64.6 82.1L65.5 92.5L57.6 90.8Z" fill="rgb(41,41,41)"/><path d="M75.1 78.6L96 78.6L96 92.5L76.8 92.5Z" fill="rgb(44,44,44)"/><path d="M101.3 104.8L111.7 104.8L111.7 115.2L101.3 115.2Z" fill="rgb(52,52,52)"/><path d="M92.5 117L104.8 117L104.8 129.2L92.5 129.2Z" fill="rgb(55,55,55)"/><path d="M99.9 125.7L99.7 124.8L99.1 124.1L98.2 123.7L97.3 123.7L96.5 124.1L95.9 124.8L95.7 125.7L95.9 126.6L96.5 127.4L97.3 127.8L98.2 127.8L99.1 127.4L99.7 126.6Z" fill="rgb(102,102,102)"/><path d="M50.8 118.4L50.5 116.7L49.6 115.4L48.4 114.6L47 114.6L45.7 115.4L44.8 116.7L44.5 118.4L44.8 120L45.7 121.4L47 122.1L48.4 122.1L49.6 121.4L50.5 120Z" fill="rgb(75,75,75)"/><path d="M49.1 118.7L48.9 118L48.5 117.4L48 117L47.4 117L46.8 117.4L46.4 118L46.3 118.7L46.4 119.5L46.8 120.1L47.4 120.4L48 120.4L48.5 120.1L48.9 119.5Z" fill="rgb(107,107,107)"/><path d="M82.1 126.4L89 126.4L89 130.9L82.1 130.9Z" fill="rgb(50,50,50)"/><path d="M94.3 68.1L104.8 68.1L111.7 78.6L108.3 96L101.3 96L96 82.1L92.5 75.1Z" fill="rgb(55,55,55)"/><path d="M110 101.3L124 101.3L124 108.3L110 108.3Z" fill="rgb(67,67,67)"/><path d="M137.9 93.4L137.6 92.3L136.6 91.4L135.2 90.9L133.7 90.9L132.3 91.4L131.3 92.3L130.9 93.4L131.3 94.5L132.3 95.5L133.7 96L135.2 96L136.6 95.5L137.6 94.5Z" fill="rgb(41,41,41)"/><path d="M104.8 89L115.2 89L115.2 103L104.8 103Z" fill="rgb(38,38,38)"/><path d="M129.2 58.5L128.9 57.4L127.9 56.4L126.5 55.9L124.9 55.9L123.5 56.4L122.6 57.4L122.2 58.5L122.6 59.6L123.5 60.5L124.9 61L126.5 61L127.9 60.5L128.9 59.6Z" fill="rgb(44,44,44)"/><path d="M151.9 41.9L151.5 41L150.3 40.3L148.5 39.9L146.6 39.9L144.8 40.3L143.6 41L143.2 41.9L143.6 42.8L144.8 43.5L146.6 43.9L148.5 43.9L150.3 43.5L151.5 42.8Z" fill="rgb(44,44,44)"/><path d="M160.6 89L165.9 92.5L169.4 106.5L167.6 115.2L164.1 110L161.5 97.8Z" fill="rgb(52,52,52)"/><path d="M253.9 63L259.8 63.7L260.2 69.8L254.9 70.5Z" fill="rgb(75,75,75)"/><path d="M260.9 70.2L267.1 69L267.1 73.3L261.9 76.3Z" fill="rgb(75,75,75)"/><path d="M199 47.8L211.3 47.8L211.3 54.8L199 54.8Z" fill="rgb(50,50,50)"/><path d="M230.5 63.7L230.2 62.2L229.5 61L228.4 60.3L227.3 60.3L226.2 61L225.5 62.2L225.2 63.7L225.5 65.2L226.2 66.5L227.3 67.1L228.4 67.1L229.5 66.5L230.2 65.2Z" fill="rgb(50,50,50)"/><path d="M240.9 34.4L240.3 32.9L238.3 31.7L235.5 31L232.4 31L229.6 31.7L227.7 32.9L227 34.4L227.7 35.9L229.6 37.1L232.4 37.8L235.5 37.8L238.3 37.1L240.3 35.9Z" fill="rgb(47,47,47)"/><path d="M260.2 28.6L259.6 27.7L258.2 27L256.1 26.6L253.8 26.6L251.7 27L250.2 27.7L249.7 28.6L250.2 29.5L251.7 30.3L253.8 30.7L256.1 30.7L258.2 30.3L259.6 29.5Z" fill="rgb(52,52,52)"/><path d="M276.9 43.6L276.6 42.7L275.9 42L274.7 41.6L273.5 41.6L272.4 42L271.6 42.7L271.3 43.6L271.6 44.6L272.4 45.3L273.5 45.7L274.7 45.7L275.9 45.3L276.6 44.6Z" fill="rgb(50,50,50)"/><path d="M317.2 21.5L316.7 20.8L315.1 20.2L312.9 19.9L310.4 19.9L308.2 20.2L306.6 20.8L306.1 21.5L306.6 22.2L308.2 22.7L310.4 23L312.9 23L315.1 22.7L316.7 22.2Z" fill="rgb(101,101,101)"/><path d="M304.7 24.3L304.2 23.7L303 23.3L301.3 23.1L299.3 23.1L297.6 23.3L296.4 23.7L295.9 24.3L296.4 24.8L297.6 25.2L299.3 25.5L301.3 25.5L303 25.2L304.2 24.8Z" fill="rgb(95,95,95)"/><path d="M325.6 19.7L325.4 19L324.6 18.5L323.6 18.2L322.4 18.2L321.4 18.5L320.7 19L320.4 19.7L320.7 20.4L321.4 21L322.4 21.3L323.6 21.3L324.6 21L325.4 20.4Z" fill="rgb(61,61,61)"/><path d="M335.6 22.7L335.4 22.2L334.8 21.9L334 21.7L333 21.7L332.2 21.9L331.6 22.2L331.4 22.7L331.6 23.2L332.2 23.5L333 23.7L334 23.7L334.8 23.5L335.4 23.2Z" fill="rgb(52,52,52)"/><path d="M316.3 27.1L315.4 26.4L314.2 26.2L313.1 26.5L312.2 27.2L311.7 28.3L311.7 29.5L312.3 30.5L313.2 31.2L314.3 31.4L315.5 31.1L316.4 30.4L316.8 29.3L316.8 28.2Z" fill="rgb(92,92,92)"/><path d="M335.2 26.2L335.1 25.6L334.6 25.1L333.9 24.8L333.1 24.8L332.4 25.1L331.9 25.6L331.7 26.2L331.9 26.8L332.4 27.3L333.1 27.6L333.9 27.6L334.6 27.3L335.1 26.8Z" fill="rgb(41,41,41)"/><path d="M162.4 29.7L162.2 29.1L161.7 28.6L161 28.3L160.2 28.3L159.5 28.6L159.1 29.1L158.9 29.7L159.1 30.3L159.5 30.8L160.2 31L161 31L161.7 30.8L162.2 30.3Z" fill="rgb(41,41,41)"/><path d="M150.2 32.3L150 31.7L149.5 31.2L148.8 30.9L148 30.9L147.3 31.2L146.8 31.7L146.7 32.3L146.8 32.9L147.3 33.4L148 33.7L148.8 33.7L149.5 33.4L150 32.9Z" fill="rgb(41,41,41)"/><path d="M176.3 56.7L176.2 56.1L175.7 55.7L175 55.4L174.2 55.4L173.5 55.7L173 56.1L172.9 56.7L173 57.4L173.5 57.8L174.2 58.1L175 58.1L175.7 57.8L176.2 57.4Z" fill="rgb(41,41,41)"/><path d="M17.5 34.9L24.4 28.8L34.9 29.7L37.5 40.2L33.2 42.8L24.4 41L17.5 40.2Z" fill="rgb(72,72,72)"/><path d="M43.6 22.7L55.9 21L64.6 26.2L62.9 33.2L52.4 30.6L45.4 29.7Z" fill="rgb(67,67,67)"/><path d="M57.5 25.7L57.1 25.1L55.8 24.4L53.7 23.8L51.4 23.4L49.3 23.3L47.8 23.5L47.2 23.9L47.6 24.5L49 25.2L51 25.8L53.3 26.2L55.4 26.3L56.9 26.1Z" fill="rgb(115,115,115)"/><path d="M34.9 41.9L52.4 34.9L69.8 31.4L87.3 26.2L104.8 22.7L113.5 15.7L125.7 13.1L139.7 14L146.7 26.2L143.2 40.2L130.9 43.6L118.7 48.9L104.8 50.6L87.3 54.1L69.8 54.1L52.4 52.4L34.9 48.9Z" fill="rgb(55,55,55)"/><path d="M48.9 40.2L69.8 36.7L96 31.4L113.5 26.2L130.9 22.7L139.7 29.7L130.9 36.7L113.5 41.9L87.3 45.4L61.1 45.4Z" fill="rgb(70,70,70)"/><path d="M75.1 43.6L74.6 42.7L73.1 42L71 41.6L68.7 41.6L66.6 42L65.1 42.7L64.6 43.6L65.1 44.6L66.6 45.3L68.7 45.7L71 45.7L73.1 45.3L74.6 44.6Z" fill="rgb(92,92,92)"/><path d="M129.2 29.7L128.5 28.5L126.6 27.6L123.8 27.1L120.7 27.1L117.9 27.6L115.9 28.5L115.2 29.7L115.9 30.8L117.9 31.7L120.7 32.2L123.8 32.2L126.6 31.7L128.5 30.8Z" fill="rgb(98,98,98)"/><path d="M100.4 38.4L100 37.5L98.8 36.8L97 36.4L95.1 36.4L93.3 36.8L92.1 37.5L91.7 38.4L92.1 39.3L93.3 40.1L95.1 40.5L97 40.5L98.8 40.1L100 39.3Z" fill="rgb(95,95,95)"/><path d="M132.7 21L132.2 19.9L130.7 19L128.6 18.6L126.3 18.6L124.2 19L122.7 19.9L122.2 21L122.7 22L124.2 22.9L126.3 23.3L128.6 23.3L130.7 22.9L132.2 22Z" fill="rgb(0,0,0)"/><path d="M48.9 48.9L69.8 50.6L83.8 54.1L80.3 61.1L66.3 61.1L57.6 57.6L48.9 54.1Z" fill="rgb(52,52,52)"/><path d="M21 55.9L40.2 55.9L40.2 66.3L21 66.3Z" fill="rgb(44,44,44)"/><path d="M68.1 15.7L94.3 15.7L94.3 29.7L68.1 29.7Z" fill="rgb(27,27,27)"/><path d="M82.1 61.1L104.8 59.4L111.7 64.6L97.8 67.2L83.8 66.3Z" fill="rgb(38,38,38)"/><path d="M99.5 49.8L106.5 49.8L113.5 54.1L118.7 59.4L120.5 66.3L117 71.6L111.7 69.8L106.5 66.3L101.3 61.1L99.5 55.9Z" fill="rgb(90,90,90)"/><path d="M111.7 64.6L122.2 65.5L125.7 71.6L124 78.6L118.7 78.6L113.5 73.3Z" fill="rgb(84,84,84)"/><path d="M104.8 76.8L117 76.8L117 92.5L108.3 96L104.8 89Z" fill="rgb(61,61,61)"/><path d="M113.5 85.6L113.2 84.4L112.5 83.5L111.5 83L110.3 83L109.2 83.5L108.5 84.4L108.3 85.6L108.5 86.7L109.2 87.6L110.3 88.1L111.5 88.1L112.5 87.6L113.2 86.7Z" fill="rgb(97,97,97)"/><path d="M110 58.8L109.8 58.1L109.3 57.5L108.6 57.1L107.9 57.1L107.2 57.5L106.7 58.1L106.5 58.8L106.7 59.6L107.2 60.2L107.9 60.5L108.6 60.5L109.3 60.2L109.8 59.6Z" fill="rgb(191,191,191)"/><path d="M115.2 62.9L115 61.7L114.2 60.8L113.2 60.3L112 60.3L111 60.8L110.3 61.7L110 62.9L110.3 64L111 64.9L112 65.4L113.2 65.4L114.2 64.9L115 64Z" fill="rgb(115,115,115)"/><path d="M124 73.3L123.6 72.2L122.7 71.3L121.3 70.8L119.7 70.8L118.3 71.3L117.3 72.2L117 73.3L117.3 74.5L118.3 75.4L119.7 75.9L121.3 75.9L122.7 75.4L123.6 74.5Z" fill="rgb(115,115,115)"/><path d="M91.7 41L91.2 39.1L90 37.6L88.3 36.8L86.3 36.8L84.6 37.6L83.4 39.1L82.9 41L83.4 42.9L84.6 44.4L86.3 45.3L88.3 45.3L90 44.4L91.2 42.9Z" fill="rgb(61,61,61)"/><path d="M211.3 71.6L218.2 68.1L225.2 65.5L232.2 66.3L239.2 69.8L244.4 72.5L247.1 75.1L246.2 82.1L240.9 87.3L230.5 89.9L223.5 89L216.5 87.3L211.3 82.1L209.5 76.8Z" fill="rgb(78,78,78)"/><path d="M241.8 78.6L241.3 76.7L239.8 75.2L237.7 74.3L235.4 74.3L233.3 75.2L231.9 76.7L231.3 78.6L231.9 80.5L233.3 82L235.4 82.8L237.7 82.8L239.8 82L241.3 80.5Z" fill="rgb(102,102,102)"/><path d="M226.8 74.2L226.6 73.3L226 72.6L225.2 72.2L224.2 72.2L223.4 72.6L222.8 73.3L222.6 74.2L222.8 75.1L223.4 75.8L224.2 76.2L225.2 76.2L226 75.8L226.6 75.1Z" fill="rgb(128,128,128)"/><path d="M220 77.3L219.8 76.2L219.2 75.3L218.4 74.8L217.4 74.8L216.6 75.3L216 76.2L215.8 77.3L216 78.5L216.6 79.4L217.4 79.9L218.4 79.9L219.2 79.4L219.8 78.5Z" fill="rgb(115,115,115)"/><path d="M206 87.3L216.5 87.3L227 89L225.2 96L220 103L214.8 108.3L207.8 106.5L204.3 97.8Z" fill="rgb(52,52,52)"/><path d="M225.2 107.4L225 106L224.2 104.9L223.2 104.3L222 104.3L221 104.9L220.3 106L220 107.4L220.3 108.7L221 109.8L222 110.4L223.2 110.4L224.2 109.8L225 108.7Z" fill="rgb(75,75,75)"/><path d="M153.6 78.6L167.6 73.3L178.1 78.6L185.1 83.8L181.6 89L174.6 94.3L169.4 96L165.9 89L158.9 89L153.6 85.6Z" fill="rgb(84,84,84)"/><path d="M164.1 76.8L172.9 78.6L174.6 87.3L167.6 89L162.4 83.8Z" fill="rgb(102,102,102)"/><path d="M161.5 94.3L165.9 94.3L170.2 113.5L167.6 116.5L164.1 108.3Z" fill="rgb(67,67,67)"/><path d="M174.6 76.8L188.6 81.2L195.6 82.1L195.6 84.7L185.1 84.7L174.6 81.2Z" fill="rgb(90,90,90)"/><path d="M160.6 89L165.9 92.5L169.4 106.5L167.6 115.2L164.1 110L161.5 97.8Z" fill="rgb(61,61,61)"/><path d="M165.9 67.2L165.3 65.3L163.6 63.8L161.1 63L158.4 63L155.9 63.8L154.3 65.3L153.6 67.2L154.3 69.1L155.9 70.6L158.4 71.5L161.1 71.5L163.6 70.6L165.3 69.1Z" fill="rgb(90,90,90)"/><path d="M158 65.8L157.9 65.1L157.6 64.5L157.2 64.1L156.7 64.1L156.3 64.5L156 65.1L155.9 65.8L156 66.6L156.3 67.2L156.7 67.5L157.2 67.5L157.6 67.2L157.9 66.6Z" fill="rgb(166,166,166)"/><path d="M164.1 75.1L174.6 78.6L181.6 85.6L174.6 92.5L165.9 90.8L162.4 82.1Z" fill="rgb(90,90,90)"/><path d="M172.9 83.8L172.5 82.3L171.5 81.1L170.1 80.4L168.6 80.4L167.2 81.1L166.2 82.3L165.9 83.8L166.2 85.3L167.2 86.5L168.6 87.2L170.1 87.2L171.5 86.5L172.5 85.3Z" fill="rgb(107,107,107)"/><path d="M183.3 70.7L213 70.7L213 77.7L183.3 77.7Z" fill="rgb(95,95,95)"/><path d="M174.6 69.8L183 69.8L183 76.8L174.6 76.8Z" fill="rgb(0,0,0)"/><path d="M195.6 74.2L195.2 73.6L194.2 73.1L192.8 72.8L191.3 72.8L189.9 73.1L188.9 73.6L188.6 74.2L188.9 74.8L189.9 75.3L191.3 75.6L192.8 75.6L194.2 75.3L195.2 74.8Z" fill="rgb(115,115,115)"/><path d="M207.8 75.1L207.4 74.5L206.5 74L205.1 73.7L203.5 73.7L202.1 74L201.1 74.5L200.8 75.1L201.1 75.7L202.1 76.2L203.5 76.4L205.1 76.4L206.5 76.2L207.4 75.7Z" fill="rgb(115,115,115)"/><path d="M181.6 76.8L209.5 76.8L209.5 81.2L185.1 81.2Z" fill="rgb(61,61,61)"/><path d="M211.3 69.8L220 68.1L223.5 78.6L216.5 85.6L209.5 82.1Z" fill="rgb(89,89,89)"/><path d="M201.5 26.5L201 25.4L199.5 24.5L197.4 24L195.1 24L193 24.5L191.5 25.4L191 26.5L191.5 27.7L193 28.6L195.1 29.1L197.4 29.1L199.5 28.6L201 27.7Z" fill="rgb(61,61,61)"/><path d="M217.2 32.3L216.5 31.4L214.7 30.7L212 30.3L209.1 30.3L206.4 30.7L204.6 31.4L203.9 32.3L204.6 33.2L206.4 33.9L209.1 34.3L212 34.3L214.7 33.9L216.5 33.2Z" fill="rgb(61,61,61)"/><path d="M240.9 35.8L240.2 33.5L237.9 31.7L234.7 30.7L231.1 30.7L227.9 31.7L225.7 33.5L224.9 35.8L225.7 38.1L227.9 39.9L231.1 40.9L234.7 40.9L237.9 39.9L240.2 38.1Z" fill="rgb(72,72,72)"/><path d="M264.5 29.2L263.7 28L261.6 27.1L258.4 26.6L254.9 26.6L251.8 27.1L249.6 28L248.8 29.2L249.6 30.3L251.8 31.2L254.9 31.7L258.4 31.7L261.6 31.2L263.7 30.3Z" fill="rgb(61,61,61)"/><path d="M277.6 29.9L277.2 29L276.2 28.4L274.6 28L272.9 28L271.4 28.4L270.3 29L269.9 29.9L270.3 30.7L271.4 31.4L272.9 31.7L274.6 31.7L276.2 31.4L277.2 30.7Z" fill="rgb(55,55,55)"/><path d="M267.1 37.5L266.9 36.7L266.2 36L265.1 35.7L263.9 35.7L262.9 36L262.2 36.7L261.9 37.5L262.2 38.4L262.9 39L263.9 39.4L265.1 39.4L266.2 39L266.9 38.4Z" fill="rgb(52,52,52)"/><path d="M275 45.6L274.7 44.1L274 43L273 42.3L271.8 42.3L270.7 43L270 44.1L269.8 45.6L270 47L270.7 48.2L271.8 48.8L273 48.8L274 48.2L274.7 47Z" fill="rgb(61,61,61)"/><path d="M303.8 23.9L303.4 23.4L302.4 23L300.8 22.7L299.1 22.7L297.6 23L296.5 23.4L296.1 23.9L296.5 24.5L297.6 24.9L299.1 25.1L300.8 25.1L302.4 24.9L303.4 24.5Z" fill="rgb(61,61,61)"/><path d="M322.1 21.3L321.4 20.2L319.2 19.3L316 18.7L312.5 18.7L309.4 19.3L307.2 20.2L306.4 21.3L307.2 22.4L309.4 23.3L312.5 23.9L316 23.9L319.2 23.3L321.4 22.4Z" fill="rgb(84,84,84)"/><path d="M314.7 28.8L313.2 27L311.5 25.9L309.8 25.7L308.4 26.5L307.7 28.1L307.8 30.2L308.6 32.3L310.1 34.1L311.8 35.2L313.5 35.4L314.9 34.6L315.6 33L315.5 31Z" fill="rgb(90,90,90)"/><path d="M339.6 19.2L339.1 18.8L337.6 18.5L335.5 18.4L333.2 18.4L331.1 18.5L329.6 18.8L329.1 19.2L329.6 19.6L331.1 19.9L333.2 20.1L335.5 20.1L337.6 19.9L339.1 19.6Z" fill="rgb(50,50,50)"/><path d="M209.3 50.8L208.6 49.4L206.4 48.2L203.2 47.6L199.7 47.6L196.6 48.2L194.4 49.4L193.6 50.8L194.4 52.2L196.6 53.4L199.7 54L203.2 54L206.4 53.4L208.6 52.2Z" fill="rgb(67,67,67)"/><path d="M173.9 55.9L173.8 55.1L173.4 54.5L172.8 54.2L172.2 54.2L171.6 54.5L171.2 55.1L171.1 55.9L171.2 56.6L171.6 57.2L172.2 57.6L172.8 57.6L173.4 57.2L173.8 56.6Z" fill="rgb(50,50,50)"/><path d="M157.1 47.1L156.6 46.2L155.2 45.5L153.1 45.1L150.7 45.1L148.6 45.5L147.2 46.2L146.7 47.1L147.2 48.1L148.6 48.8L150.7 49.2L153.1 49.2L155.2 48.8L156.6 48.1Z" fill="rgb(47,47,47)"/></g><g clip-path="url(#eclip)"><use href="#coast"/><path d="M157.1 68L158.6 66.5L158.7 64.9L158.5 63.1L159.9 62.1L162.7 60.9L164.9 59.9L166.7 59L168.2 58.6L168.6 58.1L169.8 57.7L171.5 57.6L172.3 58.1L171 58.8L169.7 59.7L168.2 59.9L166.7 60.2L166 60.9L165.9 61.7L166.7 63.3L168 64.9L170 65.9L173.4 66.9L174.8 67.1L177.1 67.1L180.4 66.6L184.2 65.5L185.5 65L188.4 64.1L190.8 63.8L192.8 63.7L194.8 64L197.7 65.4L199.2 64.8L199 66.4L201.1 66.3L199.2 64.8L198.7 63.1L200 62.6L202.3 62L204.2 61.8L205.5 62L206.9 62.3L209.4 63.3L211.8 64.5L212.8 65.7L212.9 67.7L214.3 68.9L215.7 70.6L216.3 72.5L216 74.1L214.7 75.8L213.5 77.5L212.9 81L210.8 82.5L209.1 83.6L206.5 82.4L204.5 81.7L202.6 80.4L201.1 80.1L198.1 81.4L195.7 82.6L190.3 82.9L186.3 82.6L183.4 81.7L180.9 81L179 80.3L176.1 79L173.2 77.8L170.7 76.3L169.2 74.8L167.3 72.6L165.3 70.8L163.4 69.5L161.1 68.9L158.3 69.2L157.1 68Z" fill="none" stroke="#16168e" stroke-width="1.7" stroke-linejoin="round"/><circle cx="151.7" cy="71.1" r="1.1" fill="#1c1c96"/><rect x="174.6" y="69.8" width="40.2" height="7" fill="none" stroke="#a020f0" stroke-width="1.3"/></g></g><filter id="cm2" x="0" y="0" width="349.2" height="130.9" filterUnits="userSpaceOnUse" color-interpolation-filters="sRGB"><feGaussianBlur in="SourceGraphic" stdDeviation="1.3" result="b"/><feTurbulence type="fractalNoise" baseFrequency="0.17" numOctaves="3" seed="17" result="n"/><feColorMatrix in="n" type="matrix" values="1 0 0 0 0  1 0 0 0 0  1 0 0 0 0  0 0 0 0 1" result="ng"/><feComposite in="b" in2="ng" operator="arithmetic" k1="3.0" k2="-0.5" k3="0" k4="-0.02" result="v"/><feComponentTransfer in="v"><feFuncR type="discrete" tableValues="0.9647 0.2706 0.2471 0.2980 0.5255 0.7020 0.8902 0.9765 0.9686 0.9569 0.9412 0.9098"/><feFuncG type="discrete" tableValues="0.9843 0.5961 0.6431 0.7137 0.7686 0.8314 0.8863 0.8510 0.7098 0.5882 0.4549 0.3529"/><feFuncB type="discrete" tableValues="0.9961 0.6510 0.4078 0.2824 0.3255 0.3216 0.3529 0.3529 0.2941 0.2392 0.1882 0.1569"/><feFuncA type="linear" slope="0" intercept="1"/></feComponentTransfer></filter><g transform="translate(335.2,381.7)"><g filter="url(#cm2)"><rect x="0" y="0" width="349.2" height="130.9" fill="#000"/><path d="M17.5 76.8L26.2 76.8L26.2 82.1L17.5 82.1Z" fill="rgb(44,44,44)"/><path d="M51 84.7L50.6 83.5L49.5 82.6L48 82.1L46.3 82.1L44.7 82.6L43.7 83.5L43.3 84.7L43.7 85.8L44.7 86.7L46.3 87.2L48 87.2L49.5 86.7L50.6 85.8Z" fill="rgb(55,55,55)"/><path d="M55.9 80.3L64.6 82.1L65.5 92.5L57.6 90.8Z" fill="rgb(41,41,41)"/><path d="M75.1 78.6L96 78.6L96 92.5L76.8 92.5Z" fill="rgb(44,44,44)"/><path d="M101.3 104.8L111.7 104.8L111.7 115.2L101.3 115.2Z" fill="rgb(52,52,52)"/><path d="M92.5 117L104.8 117L104.8 129.2L92.5 129.2Z" fill="rgb(55,55,55)"/><path d="M99.9 125.7L99.7 124.8L99.1 124.1L98.2 123.7L97.3 123.7L96.5 124.1L95.9 124.8L95.7 125.7L95.9 126.6L96.5 127.4L97.3 127.8L98.2 127.8L99.1 127.4L99.7 126.6Z" fill="rgb(102,102,102)"/><path d="M50.8 118.4L50.5 116.7L49.6 115.4L48.4 114.6L47 114.6L45.7 115.4L44.8 116.7L44.5 118.4L44.8 120L45.7 121.4L47 122.1L48.4 122.1L49.6 121.4L50.5 120Z" fill="rgb(75,75,75)"/><path d="M49.1 118.7L48.9 118L48.5 117.4L48 117L47.4 117L46.8 117.4L46.4 118L46.3 118.7L46.4 119.5L46.8 120.1L47.4 120.4L48 120.4L48.5 120.1L48.9 119.5Z" fill="rgb(107,107,107)"/><path d="M82.1 126.4L89 126.4L89 130.9L82.1 130.9Z" fill="rgb(50,50,50)"/><path d="M94.3 68.1L104.8 68.1L111.7 78.6L108.3 96L101.3 96L96 82.1L92.5 75.1Z" fill="rgb(55,55,55)"/><path d="M110 101.3L124 101.3L124 108.3L110 108.3Z" fill="rgb(67,67,67)"/><path d="M137.9 93.4L137.6 92.3L136.6 91.4L135.2 90.9L133.7 90.9L132.3 91.4L131.3 92.3L130.9 93.4L131.3 94.5L132.3 95.5L133.7 96L135.2 96L136.6 95.5L137.6 94.5Z" fill="rgb(41,41,41)"/><path d="M104.8 89L115.2 89L115.2 103L104.8 103Z" fill="rgb(38,38,38)"/><path d="M129.2 58.5L128.9 57.4L127.9 56.4L126.5 55.9L124.9 55.9L123.5 56.4L122.6 57.4L122.2 58.5L122.6 59.6L123.5 60.5L124.9 61L126.5 61L127.9 60.5L128.9 59.6Z" fill="rgb(44,44,44)"/><path d="M151.9 41.9L151.5 41L150.3 40.3L148.5 39.9L146.6 39.9L144.8 40.3L143.6 41L143.2 41.9L143.6 42.8L144.8 43.5L146.6 43.9L148.5 43.9L150.3 43.5L151.5 42.8Z" fill="rgb(44,44,44)"/><path d="M160.6 89L165.9 92.5L169.4 106.5L167.6 115.2L164.1 110L161.5 97.8Z" fill="rgb(52,52,52)"/><path d="M253.9 63L259.8 63.7L260.2 69.8L254.9 70.5Z" fill="rgb(75,75,75)"/><path d="M260.9 70.2L267.1 69L267.1 73.3L261.9 76.3Z" fill="rgb(75,75,75)"/><path d="M199 47.8L211.3 47.8L211.3 54.8L199 54.8Z" fill="rgb(50,50,50)"/><path d="M230.5 63.7L230.2 62.2L229.5 61L228.4 60.3L227.3 60.3L226.2 61L225.5 62.2L225.2 63.7L225.5 65.2L226.2 66.5L227.3 67.1L228.4 67.1L229.5 66.5L230.2 65.2Z" fill="rgb(50,50,50)"/><path d="M240.9 34.4L240.3 32.9L238.3 31.7L235.5 31L232.4 31L229.6 31.7L227.7 32.9L227 34.4L227.7 35.9L229.6 37.1L232.4 37.8L235.5 37.8L238.3 37.1L240.3 35.9Z" fill="rgb(47,47,47)"/><path d="M260.2 28.6L259.6 27.7L258.2 27L256.1 26.6L253.8 26.6L251.7 27L250.2 27.7L249.7 28.6L250.2 29.5L251.7 30.3L253.8 30.7L256.1 30.7L258.2 30.3L259.6 29.5Z" fill="rgb(52,52,52)"/><path d="M276.9 43.6L276.6 42.7L275.9 42L274.7 41.6L273.5 41.6L272.4 42L271.6 42.7L271.3 43.6L271.6 44.6L272.4 45.3L273.5 45.7L274.7 45.7L275.9 45.3L276.6 44.6Z" fill="rgb(50,50,50)"/><path d="M317.2 21.5L316.7 20.8L315.1 20.2L312.9 19.9L310.4 19.9L308.2 20.2L306.6 20.8L306.1 21.5L306.6 22.2L308.2 22.7L310.4 23L312.9 23L315.1 22.7L316.7 22.2Z" fill="rgb(101,101,101)"/><path d="M304.7 24.3L304.2 23.7L303 23.3L301.3 23.1L299.3 23.1L297.6 23.3L296.4 23.7L295.9 24.3L296.4 24.8L297.6 25.2L299.3 25.5L301.3 25.5L303 25.2L304.2 24.8Z" fill="rgb(95,95,95)"/><path d="M325.6 19.7L325.4 19L324.6 18.5L323.6 18.2L322.4 18.2L321.4 18.5L320.7 19L320.4 19.7L320.7 20.4L321.4 21L322.4 21.3L323.6 21.3L324.6 21L325.4 20.4Z" fill="rgb(61,61,61)"/><path d="M335.6 22.7L335.4 22.2L334.8 21.9L334 21.7L333 21.7L332.2 21.9L331.6 22.2L331.4 22.7L331.6 23.2L332.2 23.5L333 23.7L334 23.7L334.8 23.5L335.4 23.2Z" fill="rgb(52,52,52)"/><path d="M316.3 27.1L315.4 26.4L314.2 26.2L313.1 26.5L312.2 27.2L311.7 28.3L311.7 29.5L312.3 30.5L313.2 31.2L314.3 31.4L315.5 31.1L316.4 30.4L316.8 29.3L316.8 28.2Z" fill="rgb(92,92,92)"/><path d="M335.2 26.2L335.1 25.6L334.6 25.1L333.9 24.8L333.1 24.8L332.4 25.1L331.9 25.6L331.7 26.2L331.9 26.8L332.4 27.3L333.1 27.6L333.9 27.6L334.6 27.3L335.1 26.8Z" fill="rgb(41,41,41)"/><path d="M162.4 29.7L162.2 29.1L161.7 28.6L161 28.3L160.2 28.3L159.5 28.6L159.1 29.1L158.9 29.7L159.1 30.3L159.5 30.8L160.2 31L161 31L161.7 30.8L162.2 30.3Z" fill="rgb(41,41,41)"/><path d="M150.2 32.3L150 31.7L149.5 31.2L148.8 30.9L148 30.9L147.3 31.2L146.8 31.7L146.7 32.3L146.8 32.9L147.3 33.4L148 33.7L148.8 33.7L149.5 33.4L150 32.9Z" fill="rgb(41,41,41)"/><path d="M176.3 56.7L176.2 56.1L175.7 55.7L175 55.4L174.2 55.4L173.5 55.7L173 56.1L172.9 56.7L173 57.4L173.5 57.8L174.2 58.1L175 58.1L175.7 57.8L176.2 57.4Z" fill="rgb(41,41,41)"/><path d="M17.5 34.9L24.4 28.8L34.9 29.7L37.5 40.2L33.2 42.8L24.4 41L17.5 40.2Z" fill="rgb(72,72,72)"/><path d="M43.6 22.7L55.9 21L64.6 26.2L62.9 33.2L52.4 30.6L45.4 29.7Z" fill="rgb(67,67,67)"/><path d="M57.5 25.7L57.1 25.1L55.8 24.4L53.7 23.8L51.4 23.4L49.3 23.3L47.8 23.5L47.2 23.9L47.6 24.5L49 25.2L51 25.8L53.3 26.2L55.4 26.3L56.9 26.1Z" fill="rgb(115,115,115)"/><path d="M34.9 41.9L52.4 34.9L69.8 31.4L87.3 26.2L104.8 22.7L113.5 15.7L125.7 13.1L139.7 14L146.7 26.2L143.2 40.2L130.9 43.6L118.7 48.9L104.8 50.6L87.3 54.1L69.8 54.1L52.4 52.4L34.9 48.9Z" fill="rgb(55,55,55)"/><path d="M48.9 40.2L69.8 36.7L96 31.4L113.5 26.2L130.9 22.7L139.7 29.7L130.9 36.7L113.5 41.9L87.3 45.4L61.1 45.4Z" fill="rgb(70,70,70)"/><path d="M75.1 43.6L74.6 42.7L73.1 42L71 41.6L68.7 41.6L66.6 42L65.1 42.7L64.6 43.6L65.1 44.6L66.6 45.3L68.7 45.7L71 45.7L73.1 45.3L74.6 44.6Z" fill="rgb(92,92,92)"/><path d="M129.2 29.7L128.5 28.5L126.6 27.6L123.8 27.1L120.7 27.1L117.9 27.6L115.9 28.5L115.2 29.7L115.9 30.8L117.9 31.7L120.7 32.2L123.8 32.2L126.6 31.7L128.5 30.8Z" fill="rgb(98,98,98)"/><path d="M100.4 38.4L100 37.5L98.8 36.8L97 36.4L95.1 36.4L93.3 36.8L92.1 37.5L91.7 38.4L92.1 39.3L93.3 40.1L95.1 40.5L97 40.5L98.8 40.1L100 39.3Z" fill="rgb(95,95,95)"/><path d="M132.7 21L132.2 19.9L130.7 19L128.6 18.6L126.3 18.6L124.2 19L122.7 19.9L122.2 21L122.7 22L124.2 22.9L126.3 23.3L128.6 23.3L130.7 22.9L132.2 22Z" fill="rgb(0,0,0)"/><path d="M48.9 48.9L69.8 50.6L83.8 54.1L80.3 61.1L66.3 61.1L57.6 57.6L48.9 54.1Z" fill="rgb(52,52,52)"/><path d="M21 55.9L40.2 55.9L40.2 66.3L21 66.3Z" fill="rgb(44,44,44)"/><path d="M68.1 15.7L94.3 15.7L94.3 29.7L68.1 29.7Z" fill="rgb(27,27,27)"/><path d="M82.1 61.1L104.8 59.4L111.7 64.6L97.8 67.2L83.8 66.3Z" fill="rgb(38,38,38)"/><path d="M99.5 49.8L106.5 49.8L113.5 54.1L118.7 59.4L120.5 66.3L117 71.6L111.7 69.8L106.5 66.3L101.3 61.1L99.5 55.9Z" fill="rgb(90,90,90)"/><path d="M111.7 64.6L122.2 65.5L125.7 71.6L124 78.6L118.7 78.6L113.5 73.3Z" fill="rgb(84,84,84)"/><path d="M104.8 76.8L117 76.8L117 92.5L108.3 96L104.8 89Z" fill="rgb(61,61,61)"/><path d="M113.5 85.6L113.2 84.4L112.5 83.5L111.5 83L110.3 83L109.2 83.5L108.5 84.4L108.3 85.6L108.5 86.7L109.2 87.6L110.3 88.1L111.5 88.1L112.5 87.6L113.2 86.7Z" fill="rgb(97,97,97)"/><path d="M110 58.8L109.8 58.1L109.3 57.5L108.6 57.1L107.9 57.1L107.2 57.5L106.7 58.1L106.5 58.8L106.7 59.6L107.2 60.2L107.9 60.5L108.6 60.5L109.3 60.2L109.8 59.6Z" fill="rgb(191,191,191)"/><path d="M115.2 62.9L115 61.7L114.2 60.8L113.2 60.3L112 60.3L111 60.8L110.3 61.7L110 62.9L110.3 64L111 64.9L112 65.4L113.2 65.4L114.2 64.9L115 64Z" fill="rgb(115,115,115)"/><path d="M124 73.3L123.6 72.2L122.7 71.3L121.3 70.8L119.7 70.8L118.3 71.3L117.3 72.2L117 73.3L117.3 74.5L118.3 75.4L119.7 75.9L121.3 75.9L122.7 75.4L123.6 74.5Z" fill="rgb(115,115,115)"/><path d="M91.7 41L91.2 39.1L90 37.6L88.3 36.8L86.3 36.8L84.6 37.6L83.4 39.1L82.9 41L83.4 42.9L84.6 44.4L86.3 45.3L88.3 45.3L90 44.4L91.2 42.9Z" fill="rgb(61,61,61)"/><path d="M211.3 71.6L218.2 68.1L225.2 65.5L232.2 66.3L239.2 69.8L244.4 72.5L247.1 75.1L246.2 82.1L240.9 87.3L230.5 89.9L223.5 89L216.5 87.3L211.3 82.1L209.5 76.8Z" fill="rgb(78,78,78)"/><path d="M241.8 78.6L241.3 76.7L239.8 75.2L237.7 74.3L235.4 74.3L233.3 75.2L231.9 76.7L231.3 78.6L231.9 80.5L233.3 82L235.4 82.8L237.7 82.8L239.8 82L241.3 80.5Z" fill="rgb(102,102,102)"/><path d="M226.8 74.2L226.6 73.3L226 72.6L225.2 72.2L224.2 72.2L223.4 72.6L222.8 73.3L222.6 74.2L222.8 75.1L223.4 75.8L224.2 76.2L225.2 76.2L226 75.8L226.6 75.1Z" fill="rgb(128,128,128)"/><path d="M220 77.3L219.8 76.2L219.2 75.3L218.4 74.8L217.4 74.8L216.6 75.3L216 76.2L215.8 77.3L216 78.5L216.6 79.4L217.4 79.9L218.4 79.9L219.2 79.4L219.8 78.5Z" fill="rgb(115,115,115)"/><path d="M206 87.3L216.5 87.3L227 89L225.2 96L220 103L214.8 108.3L207.8 106.5L204.3 97.8Z" fill="rgb(52,52,52)"/><path d="M225.2 107.4L225 106L224.2 104.9L223.2 104.3L222 104.3L221 104.9L220.3 106L220 107.4L220.3 108.7L221 109.8L222 110.4L223.2 110.4L224.2 109.8L225 108.7Z" fill="rgb(75,75,75)"/><path d="M153.6 78.6L167.6 73.3L178.1 78.6L185.1 83.8L181.6 89L174.6 94.3L169.4 96L165.9 89L158.9 89L153.6 85.6Z" fill="rgb(75,75,75)"/><path d="M164.1 76.8L172.9 78.6L174.6 87.3L167.6 89L162.4 83.8Z" fill="rgb(97,97,97)"/><path d="M161.5 94.3L165.9 94.3L170.2 113.5L167.6 116.5L164.1 108.3Z" fill="rgb(67,67,67)"/><path d="M174.6 76.8L188.6 81.2L195.6 82.1L195.6 84.7L185.1 84.7L174.6 81.2Z" fill="rgb(90,90,90)"/><path d="M160.6 89L165.9 92.5L169.4 106.5L167.6 115.2L164.1 110L161.5 97.8Z" fill="rgb(61,61,61)"/><path d="M165.9 67.2L165.3 65.3L163.6 63.8L161.1 63L158.4 63L155.9 63.8L154.3 65.3L153.6 67.2L154.3 69.1L155.9 70.6L158.4 71.5L161.1 71.5L163.6 70.6L165.3 69.1Z" fill="rgb(90,90,90)"/><path d="M158 65.8L157.9 65.1L157.6 64.5L157.2 64.1L156.7 64.1L156.3 64.5L156 65.1L155.9 65.8L156 66.6L156.3 67.2L156.7 67.5L157.2 67.5L157.6 67.2L157.9 66.6Z" fill="rgb(166,166,166)"/><path d="M164.1 75.1L174.6 78.6L181.6 85.6L174.6 92.5L165.9 90.8L162.4 82.1Z" fill="rgb(84,84,84)"/><path d="M172.9 83.8L172.5 82.3L171.5 81.1L170.1 80.4L168.6 80.4L167.2 81.1L166.2 82.3L165.9 83.8L166.2 85.3L167.2 86.5L168.6 87.2L170.1 87.2L171.5 86.5L172.5 85.3Z" fill="rgb(102,102,102)"/><path d="M192.1 65.5L209.5 64.6L214.8 69.8L192.1 69.8Z" fill="rgb(55,55,55)"/><path d="M183.3 70.7L213 70.7L213 77.7L183.3 77.7Z" fill="rgb(67,67,67)"/><path d="M174.6 69.8L183 69.8L183 76.8L174.6 76.8Z" fill="rgb(0,0,0)"/><path d="M194.7 74.2L194.4 73.7L193.7 73.2L192.6 73L191.5 73L190.4 73.2L189.7 73.7L189.4 74.2L189.7 74.7L190.4 75.2L191.5 75.4L192.6 75.4L193.7 75.2L194.4 74.7Z" fill="rgb(97,97,97)"/><path d="M206.9 75.1L206.6 74.5L205.9 74.1L204.9 73.9L203.7 73.9L202.6 74.1L201.9 74.5L201.7 75.1L201.9 75.6L202.6 76L203.7 76.3L204.9 76.3L205.9 76L206.6 75.6Z" fill="rgb(97,97,97)"/><path d="M181.6 76.8L209.5 76.8L209.5 81.2L185.1 81.2Z" fill="rgb(55,55,55)"/><path d="M211.3 69.8L220 68.1L223.5 78.6L216.5 85.6L209.5 82.1Z" fill="rgb(98,98,98)"/><path d="M201.5 26.5L201 25.4L199.5 24.5L197.4 24L195.1 24L193 24.5L191.5 25.4L191 26.5L191.5 27.7L193 28.6L195.1 29.1L197.4 29.1L199.5 28.6L201 27.7Z" fill="rgb(61,61,61)"/><path d="M217.2 32.3L216.5 31.4L214.7 30.7L212 30.3L209.1 30.3L206.4 30.7L204.6 31.4L203.9 32.3L204.6 33.2L206.4 33.9L209.1 34.3L212 34.3L214.7 33.9L216.5 33.2Z" fill="rgb(61,61,61)"/><path d="M240.9 35.8L240.2 33.5L237.9 31.7L234.7 30.7L231.1 30.7L227.9 31.7L225.7 33.5L224.9 35.8L225.7 38.1L227.9 39.9L231.1 40.9L234.7 40.9L237.9 39.9L240.2 38.1Z" fill="rgb(72,72,72)"/><path d="M264.5 29.2L263.7 28L261.6 27.1L258.4 26.6L254.9 26.6L251.8 27.1L249.6 28L248.8 29.2L249.6 30.3L251.8 31.2L254.9 31.7L258.4 31.7L261.6 31.2L263.7 30.3Z" fill="rgb(61,61,61)"/><path d="M277.6 29.9L277.2 29L276.2 28.4L274.6 28L272.9 28L271.4 28.4L270.3 29L269.9 29.9L270.3 30.7L271.4 31.4L272.9 31.7L274.6 31.7L276.2 31.4L277.2 30.7Z" fill="rgb(55,55,55)"/><path d="M267.1 37.5L266.9 36.7L266.2 36L265.1 35.7L263.9 35.7L262.9 36L262.2 36.7L261.9 37.5L262.2 38.4L262.9 39L263.9 39.4L265.1 39.4L266.2 39L266.9 38.4Z" fill="rgb(52,52,52)"/><path d="M275 45.6L274.7 44.1L274 43L273 42.3L271.8 42.3L270.7 43L270 44.1L269.8 45.6L270 47L270.7 48.2L271.8 48.8L273 48.8L274 48.2L274.7 47Z" fill="rgb(61,61,61)"/><path d="M303.8 23.9L303.4 23.4L302.4 23L300.8 22.7L299.1 22.7L297.6 23L296.5 23.4L296.1 23.9L296.5 24.5L297.6 24.9L299.1 25.1L300.8 25.1L302.4 24.9L303.4 24.5Z" fill="rgb(61,61,61)"/><path d="M322.1 21.3L321.4 20.2L319.2 19.3L316 18.7L312.5 18.7L309.4 19.3L307.2 20.2L306.4 21.3L307.2 22.4L309.4 23.3L312.5 23.9L316 23.9L319.2 23.3L321.4 22.4Z" fill="rgb(84,84,84)"/><path d="M314.7 28.8L313.2 27L311.5 25.9L309.8 25.7L308.4 26.5L307.7 28.1L307.8 30.2L308.6 32.3L310.1 34.1L311.8 35.2L313.5 35.4L314.9 34.6L315.6 33L315.5 31Z" fill="rgb(90,90,90)"/><path d="M339.6 19.2L339.1 18.8L337.6 18.5L335.5 18.4L333.2 18.4L331.1 18.5L329.6 18.8L329.1 19.2L329.6 19.6L331.1 19.9L333.2 20.1L335.5 20.1L337.6 19.9L339.1 19.6Z" fill="rgb(50,50,50)"/><path d="M209.3 50.8L208.6 49.4L206.4 48.2L203.2 47.6L199.7 47.6L196.6 48.2L194.4 49.4L193.6 50.8L194.4 52.2L196.6 53.4L199.7 54L203.2 54L206.4 53.4L208.6 52.2Z" fill="rgb(67,67,67)"/><path d="M173.9 55.9L173.8 55.1L173.4 54.5L172.8 54.2L172.2 54.2L171.6 54.5L171.2 55.1L171.1 55.9L171.2 56.6L171.6 57.2L172.2 57.6L172.8 57.6L173.4 57.2L173.8 56.6Z" fill="rgb(50,50,50)"/><path d="M157.1 47.1L156.6 46.2L155.2 45.5L153.1 45.1L150.7 45.1L148.6 45.5L147.2 46.2L146.7 47.1L147.2 48.1L148.6 48.8L150.7 49.2L153.1 49.2L155.2 48.8L156.6 48.1Z" fill="rgb(47,47,47)"/></g><g clip-path="url(#eclip)"><use href="#coast"/><path d="M157.1 68L158.6 66.5L158.7 64.9L158.5 63.1L159.9 62.1L162.7 60.9L164.9 59.9L166.7 59L168.2 58.6L168.6 58.1L169.8 57.7L171.5 57.6L172.3 58.1L171 58.8L169.7 59.7L168.2 59.9L166.7 60.2L166 60.9L165.9 61.7L166.7 63.3L168 64.9L170 65.9L173.4 66.9L174.8 67.1L177.1 67.1L180.4 66.6L184.2 65.5L185.5 65L188.4 64.1L190.8 63.8L192.8 63.7L194.8 64L197.7 65.4L199.2 64.8L199 66.4L201.1 66.3L199.2 64.8L198.7 63.1L200 62.6L202.3 62L204.2 61.8L205.5 62L206.9 62.3L209.4 63.3L211.8 64.5L212.8 65.7L212.9 67.7L214.3 68.9L215.7 70.6L216.3 72.5L216 74.1L214.7 75.8L213.5 77.5L212.9 81L210.8 82.5L209.1 83.6L206.5 82.4L204.5 81.7L202.6 80.4L201.1 80.1L198.1 81.4L195.7 82.6L190.3 82.9L186.3 82.6L183.4 81.7L180.9 81L179 80.3L176.1 79L173.2 77.8L170.7 76.3L169.2 74.8L167.3 72.6L165.3 70.8L163.4 69.5L161.1 68.9L158.3 69.2L157.1 68Z" fill="none" stroke="#16168e" stroke-width="1.7" stroke-linejoin="round"/><circle cx="151.7" cy="71.1" r="1.1" fill="#1c1c96"/><rect x="174.6" y="69.8" width="40.2" height="7" fill="none" stroke="#a020f0" stroke-width="1.3"/></g></g><rect x="54" y="32.5" width="228.6" height="130.6" fill="none" stroke="#000" stroke-width="1.4"/><rect x="54" y="207.4" width="228.6" height="130.6" fill="none" stroke="#000" stroke-width="1.4"/><rect x="54" y="382.7" width="228.6" height="130.6" fill="none" stroke="#000" stroke-width="1.4"/><rect x="335.2" y="32.7" width="349.2" height="130.9" fill="none" stroke="#000" stroke-width="1.4"/><rect x="335.2" y="207.4" width="349.2" height="130.9" fill="none" stroke="#000" stroke-width="1.4"/><rect x="335.2" y="381.7" width="349.2" height="130.9" fill="none" stroke="#000" stroke-width="1.4"/><path d="M56.7 546.3L47 551.2L56.7 556.2Z" fill="#9a5a1a" stroke="#222" stroke-width="0.8"/><rect x="56.7" y="546.3" width="9.2" height="9.9" fill="#a6631f" stroke="#222" stroke-width="0.8"/><rect x="65.9" y="546.3" width="9.2" height="9.9" fill="#ae6b24" stroke="#222" stroke-width="0.8"/><rect x="75.1" y="546.3" width="9.2" height="9.9" fill="#b6762b" stroke="#222" stroke-width="0.8"/><rect x="84.3" y="546.3" width="9.2" height="9.9" fill="#c08535" stroke="#222" stroke-width="0.8"/><rect x="93.5" y="546.3" width="9.2" height="9.9" fill="#c8923f" stroke="#222" stroke-width="0.8"/><rect x="102.8" y="546.3" width="9.2" height="9.9" fill="#d4a45a" stroke="#222" stroke-width="0.8"/><rect x="112" y="546.3" width="9.2" height="9.9" fill="#ddb46b" stroke="#222" stroke-width="0.8"/><rect x="121.2" y="546.3" width="9.2" height="9.9" fill="#e6c57e" stroke="#222" stroke-width="0.8"/><rect x="130.4" y="546.3" width="9.2" height="9.9" fill="#eedaa6" stroke="#222" stroke-width="0.8"/><rect x="139.6" y="546.3" width="9.2" height="9.9" fill="#f0eee6" stroke="#222" stroke-width="0.8"/><rect x="148.8" y="546.3" width="9.2" height="9.9" fill="#e8efee" stroke="#222" stroke-width="0.8"/><rect x="158" y="546.3" width="9.2" height="9.9" fill="#a8e1d3" stroke="#222" stroke-width="0.8"/><rect x="167.2" y="546.3" width="9.2" height="9.9" fill="#96d9c7" stroke="#222" stroke-width="0.8"/><rect x="176.4" y="546.3" width="9.2" height="9.9" fill="#7fcbb8" stroke="#222" stroke-width="0.8"/><rect x="185.6" y="546.3" width="9.2" height="9.9" fill="#66bba6" stroke="#222" stroke-width="0.8"/><rect x="194.9" y="546.3" width="9.2" height="9.9" fill="#4fa995" stroke="#222" stroke-width="0.8"/><rect x="204.1" y="546.3" width="9.2" height="9.9" fill="#3c9785" stroke="#222" stroke-width="0.8"/><rect x="213.3" y="546.3" width="9.2" height="9.9" fill="#2e8a77" stroke="#222" stroke-width="0.8"/><rect x="222.5" y="546.3" width="9.2" height="9.9" fill="#237d6a" stroke="#222" stroke-width="0.8"/><path d="M231.7 546.3L241 551.2L231.7 556.2Z" fill="#1b6f5c" stroke="#222" stroke-width="0.8"/><text x="56.7" y="565.6" font-size="9.2" text-anchor="middle">-1</text><text x="75.1" y="565.6" font-size="9.2" text-anchor="middle">-0.8</text><text x="93.5" y="565.6" font-size="9.2" text-anchor="middle">-0.6</text><text x="112" y="565.6" font-size="9.2" text-anchor="middle">-0.4</text><text x="130.4" y="565.6" font-size="9.2" text-anchor="middle">-0.2</text><text x="148.8" y="565.6" font-size="9.2" text-anchor="middle">0</text><text x="167.2" y="565.6" font-size="9.2" text-anchor="middle">0.4</text><text x="185.6" y="565.6" font-size="9.2" text-anchor="middle">0.6</text><text x="204.1" y="565.6" font-size="9.2" text-anchor="middle">0.8</text><text x="222.5" y="565.6" font-size="9.2" text-anchor="middle">1</text><text x="246.5" y="560.6" font-size="8.6">10<tspan dy="-3.5" font-size="6">-2</tspan><tspan dy="3.5"> m</tspan><tspan dy="-3.5" font-size="6">3</tspan><tspan dy="3.5"> m</tspan><tspan dy="-3.5" font-size="6">-3</tspan></text><path d="M332.1 543.8L303.2 549.6L332.1 555.4Z" fill="#f6fbfe" stroke="#222" stroke-width="0.8"/><rect x="332.1" y="543.8" width="29.1" height="11.6" fill="#4598a6" stroke="#222" stroke-width="0.8"/><rect x="361.2" y="543.8" width="29.1" height="11.6" fill="#3fa468" stroke="#222" stroke-width="0.8"/><rect x="390.2" y="543.8" width="29.1" height="11.6" fill="#4cb648" stroke="#222" stroke-width="0.8"/><rect x="419.3" y="543.8" width="29.1" height="11.6" fill="#86c453" stroke="#222" stroke-width="0.8"/><rect x="448.4" y="543.8" width="29.1" height="11.6" fill="#b3d452" stroke="#222" stroke-width="0.8"/><rect x="477.5" y="543.8" width="29.1" height="11.6" fill="#e3e25a" stroke="#222" stroke-width="0.8"/><rect x="506.5" y="543.8" width="29.1" height="11.6" fill="#f9d95a" stroke="#222" stroke-width="0.8"/><rect x="535.6" y="543.8" width="29.1" height="11.6" fill="#f7b54b" stroke="#222" stroke-width="0.8"/><rect x="564.7" y="543.8" width="29.1" height="11.6" fill="#f4963d" stroke="#222" stroke-width="0.8"/><rect x="593.7" y="543.8" width="29.1" height="11.6" fill="#f07430" stroke="#222" stroke-width="0.8"/><path d="M622.8 543.8L652 549.6L622.8 555.4Z" fill="#e85a28" stroke="#222" stroke-width="0.8"/><text x="332.1" y="567.2" font-size="11" text-anchor="middle">0.8</text><text x="361.2" y="567.2" font-size="11" text-anchor="middle">0.97</text><text x="390.2" y="567.2" font-size="11" text-anchor="middle">1.14</text><text x="419.3" y="567.2" font-size="11" text-anchor="middle">1.31</text><text x="448.4" y="567.2" font-size="11" text-anchor="middle">1.48</text><text x="477.5" y="567.2" font-size="11" text-anchor="middle">1.65</text><text x="506.5" y="567.2" font-size="11" text-anchor="middle">1.82</text><text x="535.6" y="567.2" font-size="11" text-anchor="middle">1.99</text><text x="564.7" y="567.2" font-size="11" text-anchor="middle">2.16</text><text x="593.7" y="567.2" font-size="11" text-anchor="middle">2.33</text><text x="622.8" y="567.2" font-size="11" text-anchor="middle">2.5</text><text x="661" y="559.5" font-size="13.5" font-family="Liberation Serif, serif">10<tspan dy="-5" font-size="9.5">-2</tspan></text><text x="191.6" y="592.7" font-size="11.3" text-anchor="middle">TPSMI</text><clipPath id="gclip"><rect x="43.1" y="598.4" width="297" height="118.6"/></clipPath><g clip-path="url(#gclip)"><rect x="46.1" y="645.8" width="6.6" height="13.3" fill="#0000ff" stroke="#222" stroke-width="0.9"/><rect x="52.7" y="631.4" width="6.6" height="14.5" fill="#ffa500" stroke="#222" stroke-width="0.9"/><rect x="59.3" y="631.4" width="6.6" height="14.5" fill="#ffa500" stroke="#222" stroke-width="0.9"/><rect x="65.9" y="641.3" width="6.6" height="4.5" fill="#ffa500" stroke="#222" stroke-width="0.9"/><rect x="72.5" y="645.8" width="6.6" height="12.8" fill="#0000ff" stroke="#222" stroke-width="0.9"/><rect x="85.7" y="631.6" width="6.6" height="14.2" fill="#ffa500" stroke="#222" stroke-width="0.9"/><rect x="92.3" y="645.8" width="6.6" height="16.6" fill="#0000ff" stroke="#222" stroke-width="0.9"/><rect x="99" y="645.8" width="6.6" height="10.2" fill="#0000ff" stroke="#222" stroke-width="0.9"/><rect x="112.2" y="631.4" width="6.6" height="14.5" fill="#ffa500" stroke="#222" stroke-width="0.9"/><rect x="118.8" y="645.8" width="6.6" height="10.7" fill="#0000ff" stroke="#222" stroke-width="0.9"/><rect x="125.4" y="638.5" width="6.6" height="7.4" fill="#ffa500" stroke="#222" stroke-width="0.9"/><rect x="132" y="631.6" width="6.6" height="14.2" fill="#ffa500" stroke="#222" stroke-width="0.9"/><rect x="138.6" y="635.6" width="6.6" height="10.2" fill="#ffa500" stroke="#222" stroke-width="0.9"/><rect x="145.2" y="645.8" width="6.6" height="21.8" fill="#0000ff" stroke="#222" stroke-width="0.9"/><rect x="151.8" y="645.8" width="6.6" height="34.9" fill="#0000ff" stroke="#222" stroke-width="0.9"/><rect x="158.4" y="637.5" width="6.6" height="8.3" fill="#ffa500" stroke="#222" stroke-width="0.9"/><rect x="165" y="631.4" width="6.6" height="14.5" fill="#ffa500" stroke="#222" stroke-width="0.9"/><rect x="171.6" y="645.8" width="6.6" height="12.6" fill="#0000ff" stroke="#222" stroke-width="0.9"/><rect x="178.2" y="640.6" width="6.6" height="5.2" fill="#ffa500" stroke="#222" stroke-width="0.9"/><rect x="184.8" y="628.8" width="6.6" height="17.1" fill="#ffa500" stroke="#222" stroke-width="0.9"/><rect x="191.5" y="603.1" width="6.6" height="42.7" fill="#ffa500" stroke="#222" stroke-width="0.9"/><rect x="198.1" y="645.8" width="6.6" height="55" fill="#0000ff" stroke="#222" stroke-width="0.9"/><rect x="204.7" y="643.7" width="6.6" height="2.1" fill="#ffa500" stroke="#222" stroke-width="0.9"/><rect x="211.3" y="632.1" width="6.6" height="13.8" fill="#ffa500" stroke="#222" stroke-width="0.9"/><rect x="217.9" y="630.7" width="6.6" height="15.2" fill="#ffa500" stroke="#222" stroke-width="0.9"/><rect x="224.5" y="645.8" width="6.6" height="24.9" fill="#0000ff" stroke="#222" stroke-width="0.9"/><rect x="231.1" y="645.8" width="6.6" height="8.8" fill="#0000ff" stroke="#222" stroke-width="0.9"/><rect x="237.7" y="629" width="6.6" height="16.8" fill="#ffa500" stroke="#222" stroke-width="0.9"/><rect x="244.3" y="628.8" width="6.6" height="17.1" fill="#ffa500" stroke="#222" stroke-width="0.9"/><rect x="250.9" y="645.8" width="6.6" height="29.4" fill="#0000ff" stroke="#222" stroke-width="0.9"/><rect x="257.5" y="630.7" width="6.6" height="15.2" fill="#ffa500" stroke="#222" stroke-width="0.9"/><rect x="264.1" y="621.6" width="6.6" height="24.2" fill="#ffa500" stroke="#222" stroke-width="0.9"/><rect x="270.7" y="645.8" width="6.6" height="11.1" fill="#0000ff" stroke="#222" stroke-width="0.9"/><rect x="277.3" y="629.5" width="6.6" height="16.4" fill="#ffa500" stroke="#222" stroke-width="0.9"/><rect x="284" y="645.8" width="6.6" height="33" fill="#0000ff" stroke="#222" stroke-width="0.9"/><rect x="290.6" y="645.8" width="6.6" height="51.5" fill="#0000ff" stroke="#222" stroke-width="0.9"/><rect x="297.2" y="614.1" width="6.6" height="31.8" fill="#ffa500" stroke="#222" stroke-width="0.9"/><rect x="303.8" y="633.5" width="6.6" height="12.3" fill="#ffa500" stroke="#222" stroke-width="0.9"/><rect x="310.4" y="616.7" width="6.6" height="29.2" fill="#ffa500" stroke="#222" stroke-width="0.9"/><rect x="317" y="615.5" width="6.6" height="30.4" fill="#ffa500" stroke="#222" stroke-width="0.9"/><rect x="323.6" y="645.8" width="6.6" height="7.4" fill="#0000ff" stroke="#222" stroke-width="0.9"/><rect x="330.2" y="645.8" width="6.6" height="78.3" fill="#0000ff" stroke="#222" stroke-width="0.9"/><path d="M43.1 622.1H340.1M43.1 669.6H340.1" stroke="#666" stroke-width="1.3" stroke-dasharray="3.6 2.9" fill="none"/><path d="M43.1 645.8H340.1" stroke="#000" stroke-width="1.6" fill="none"/><path d="M62.6 624.7L69.6 638.1L55.6 638.1Z" fill="none" stroke="#ff1a1a" stroke-width="1.1"/><path d="M108.9 639.1L115.9 652.5L101.9 652.5Z" fill="none" stroke="#ff1a1a" stroke-width="1.1"/><path d="M201.4 694.2L208.4 707.6L194.4 707.6Z" fill="none" stroke="#ff1a1a" stroke-width="1.1"/><path d="M227.8 664L234.8 677.4L220.8 677.4Z" fill="none" stroke="#ff1a1a" stroke-width="1.1"/><path d="M254.2 668.6L261.2 682L247.2 682Z" fill="none" stroke="#ff1a1a" stroke-width="1.1"/><path d="M293.9 690.6L300.9 704L286.9 704Z" fill="none" stroke="#ff1a1a" stroke-width="1.1"/><path d="M333.5 710.3L340.5 723.7L326.5 723.7Z" fill="none" stroke="#ff1a1a" stroke-width="1.1"/></g><rect x="43.1" y="598.4" width="297" height="118.6" fill="none" stroke="#000" stroke-width="1.4"/><path d="M43.1 598.4H35.6M43.1 603.1H39.3M43.1 607.9H39.3M43.1 612.6H39.3M43.1 617.4H39.3M43.1 622.1H35.6M43.1 626.9H39.3M43.1 631.6H39.3M43.1 636.4H39.3M43.1 641.1H39.3M43.1 645.8H35.6M43.1 650.6H39.3M43.1 655.3H39.3M43.1 660.1H39.3M43.1 664.8H39.3M43.1 669.6H35.6M43.1 674.3H39.3M43.1 679H39.3M43.1 683.8H39.3M43.1 688.5H39.3M43.1 693.3H35.6M43.1 698H39.3M43.1 702.8H39.3M43.1 707.5H39.3M43.1 712.3H39.3M43.1 717H35.6M43.1 717V720.4M56.3 717V724.3M69.4 717V720.4M82.6 717V720.4M95.8 717V720.4M108.9 717V720.4M122.1 717V724.3M135.3 717V720.4M148.5 717V720.4M161.6 717V720.4M174.8 717V720.4M188 717V724.3M201.1 717V720.4M214.3 717V720.4M227.5 717V720.4M240.7 717V720.4M253.8 717V724.3M267 717V720.4M280.2 717V720.4M293.3 717V720.4M306.5 717V720.4M319.7 717V724.3M332.8 717V720.4" stroke="#000" stroke-width="1.2" fill="none"/><text x="27.2" y="602.8" font-size="12.2" text-anchor="end">2</text><text x="27.2" y="626.5" font-size="12.2" text-anchor="end">1</text><text x="27.2" y="650.2" font-size="12.2" text-anchor="end">0</text><text x="27.2" y="674" font-size="12.2" text-anchor="end">-1</text><text x="27.2" y="697.7" font-size="12.2" text-anchor="end">-2</text><text x="27.2" y="721.4" font-size="12.2" text-anchor="end">-3</text><text x="43.1" y="747.3" font-size="12.5" text-anchor="middle">1980</text><text x="108.9" y="747.3" font-size="12.5" text-anchor="middle">1990</text><text x="174.8" y="747.3" font-size="12.5" text-anchor="middle">2000</text><text x="240.6" y="747.3" font-size="12.5" text-anchor="middle">2010</text><text x="306.5" y="747.3" font-size="12.5" text-anchor="middle">2020</text><text x="534.6" y="594.9" font-size="11.7" text-anchor="middle">21-run-cor (STI &amp; TPSMI)</text><path d="M386.3 683.2H683" stroke="#666" stroke-width="1.3" stroke-dasharray="3.6 2.9" fill="none"/><path d="M386.3 657.8H683" stroke="#000" stroke-width="1.6" fill="none"/><polyline points="458.9,666.3 465.4,668.9 471.9,662.4 478.5,681.2 485.2,680.8 491.9,682.6 498.5,684.1 505.2,687.3 511.8,688.2 518.3,688.7 525,693.4 531.5,689.9 538.1,691.3 544.6,692.9 551.2,693.1 557.7,692.2 564.8,689.1 571.3,691.2 577.7,691.2 584.5,691.9 590.8,691.4 597.6,692.9 604.1,692.9 610.9,701.4" fill="none" stroke="#ff0000" stroke-width="1.4" stroke-linejoin="round"/><circle cx="458.9" cy="666.3" r="1.7" fill="#ff0000"/><circle cx="465.4" cy="668.9" r="1.7" fill="#ff0000"/><circle cx="471.9" cy="662.4" r="1.7" fill="#ff0000"/><circle cx="478.5" cy="681.2" r="1.7" fill="#ff0000"/><circle cx="485.2" cy="680.8" r="1.7" fill="#ff0000"/><circle cx="491.9" cy="682.6" r="1.7" fill="#ff0000"/><circle cx="498.5" cy="684.1" r="1.7" fill="#ff0000"/><circle cx="505.2" cy="687.3" r="1.7" fill="#ff0000"/><circle cx="511.8" cy="688.2" r="1.7" fill="#ff0000"/><circle cx="518.3" cy="688.7" r="1.7" fill="#ff0000"/><circle cx="525" cy="693.4" r="1.7" fill="#ff0000"/><circle cx="531.5" cy="689.9" r="1.7" fill="#ff0000"/><circle cx="538.1" cy="691.3" r="1.7" fill="#ff0000"/><circle cx="544.6" cy="692.9" r="1.7" fill="#ff0000"/><circle cx="551.2" cy="693.1" r="1.7" fill="#ff0000"/><circle cx="557.7" cy="692.2" r="1.7" fill="#ff0000"/><circle cx="564.8" cy="689.1" r="1.7" fill="#ff0000"/><circle cx="571.3" cy="691.2" r="1.7" fill="#ff0000"/><circle cx="577.7" cy="691.2" r="1.7" fill="#ff0000"/><circle cx="584.5" cy="691.9" r="1.7" fill="#ff0000"/><circle cx="590.8" cy="691.4" r="1.7" fill="#ff0000"/><circle cx="597.6" cy="692.9" r="1.7" fill="#ff0000"/><circle cx="604.1" cy="692.9" r="1.7" fill="#ff0000"/><circle cx="610.9" cy="701.4" r="1.7" fill="#ff0000"/><rect x="386.3" y="598.6" width="296.7" height="118.3" fill="none" stroke="#000" stroke-width="1.4"/><path d="M386.3 598.6H382.7M386.3 604.5H382.7M386.3 610.4H379M386.3 616.3H382.7M386.3 622.3H382.7M386.3 628.2H382.7M386.3 634.1H379M386.3 640H382.7M386.3 645.9H382.7M386.3 651.8H382.7M386.3 657.8H379M386.3 663.7H382.7M386.3 669.6H382.7M386.3 675.5H382.7M386.3 681.4H379M386.3 687.3H382.7M386.3 693.2H382.7M386.3 699.2H382.7M386.3 705.1H379M386.3 711H382.7M386.3 716.9H382.7M386.3 716.9V720.3M399.4 716.9V724.2M412.6 716.9V720.3M425.7 716.9V720.3M438.8 716.9V720.3M452 716.9V720.3M465.1 716.9V724.2M478.2 716.9V720.3M491.3 716.9V720.3M504.5 716.9V720.3M517.6 716.9V720.3M530.7 716.9V724.2M543.9 716.9V720.3M557 716.9V720.3M570.1 716.9V720.3M583.2 716.9V720.3M596.4 716.9V724.2M609.5 716.9V720.3M622.6 716.9V720.3M635.8 716.9V720.3M648.9 716.9V720.3M662 716.9V724.2M675.2 716.9V720.3" stroke="#000" stroke-width="1.2" fill="none"/><text x="371.3" y="614.4" font-size="11.2" text-anchor="end">0.8</text><text x="371.3" y="638.1" font-size="11.2" text-anchor="end">0.4</text><text x="371.3" y="661.8" font-size="11.2" text-anchor="end">0.0</text><text x="371.3" y="685.4" font-size="11.2" text-anchor="end">-0.4</text><text x="371.3" y="709.1" font-size="11.2" text-anchor="end">-0.8</text><text x="386.3" y="747.3" font-size="12.5" text-anchor="middle">1980</text><text x="452" y="747.3" font-size="12.5" text-anchor="middle">1990</text><text x="517.7" y="747.3" font-size="12.5" text-anchor="middle">2000</text><text x="583.4" y="747.3" font-size="12.5" text-anchor="middle">2010</text><text x="649.1" y="747.3" font-size="12.5" text-anchor="middle">2020</text></svg></body></html>
